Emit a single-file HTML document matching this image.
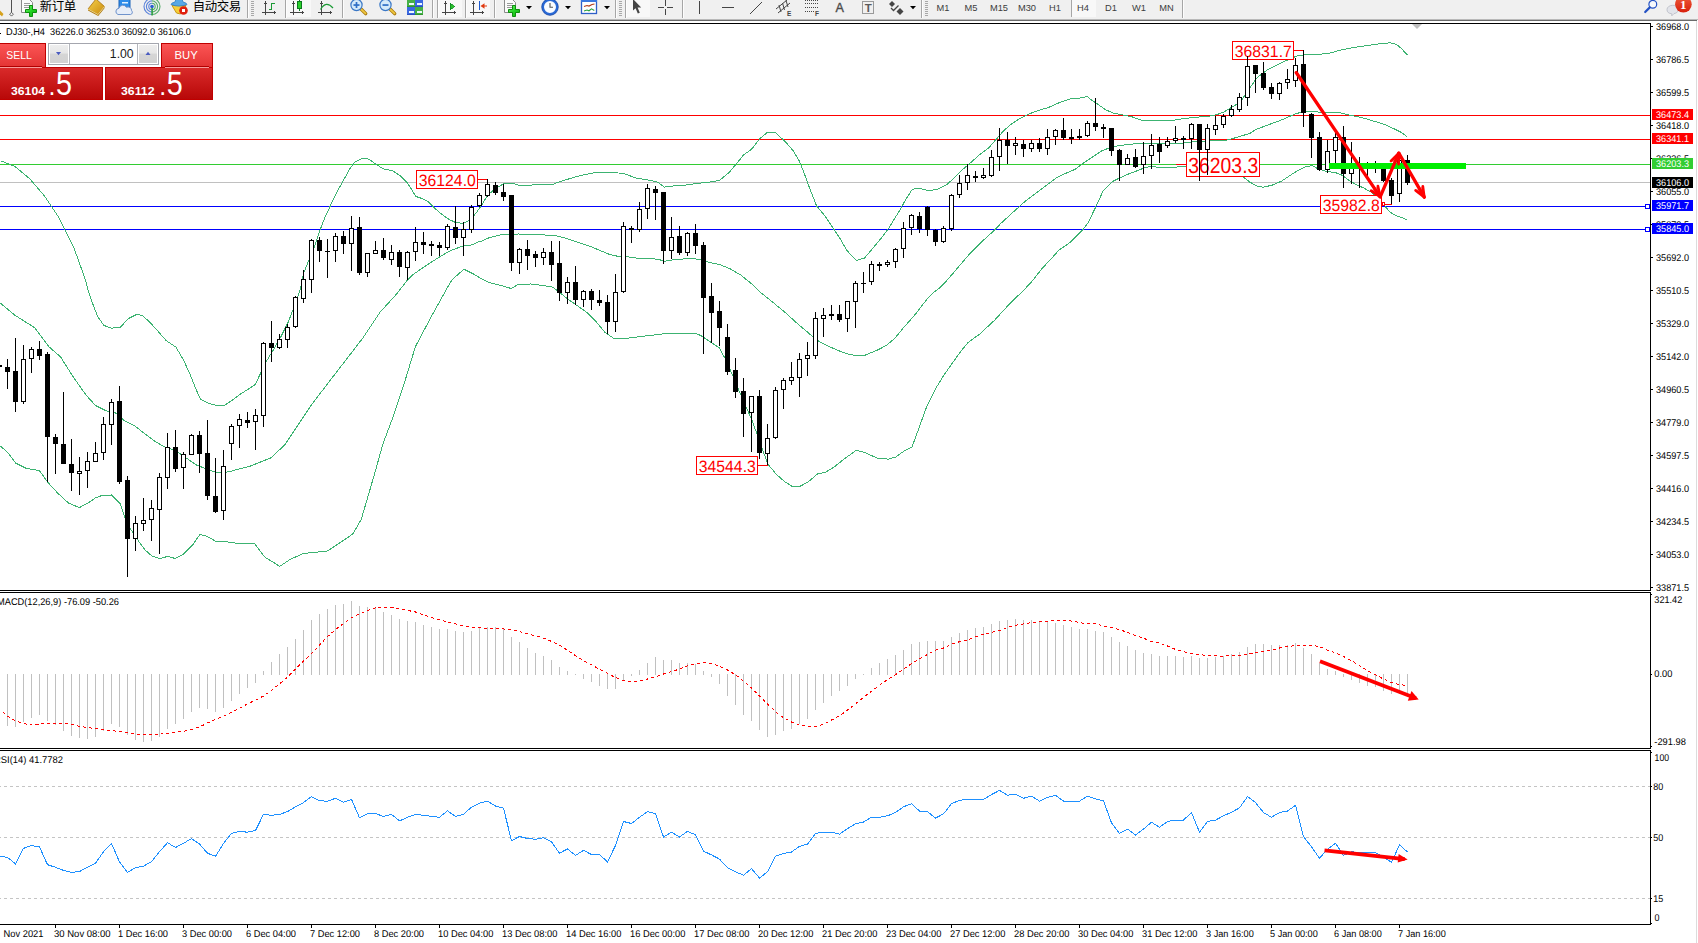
<!DOCTYPE html>
<html lang="zh"><head><meta charset="utf-8"><title>DJ30-,H4</title>
<style>html,body{margin:0;padding:0;background:#fff;}body{width:1698px;height:943px;overflow:hidden;position:relative;}svg{position:absolute;left:0;top:0;display:block;font-family:'Liberation Sans', sans-serif;}.c{shape-rendering:crispEdges;}.t{text-rendering:geometricPrecision;}</style></head><body>
<svg width="1698" height="943" viewBox="0 0 1698 943">
<rect x="0" y="0" width="1698" height="943" fill="#fff"/>
<defs><linearGradient id="gGold" x1="0" y1="0" x2="1" y2="1"><stop offset="0" stop-color="#f6d24a"/><stop offset="1" stop-color="#c98a10"/></linearGradient><linearGradient id="gPlus" x1="0" y1="0" x2="1" y2="1"><stop offset="0" stop-color="#7af07a"/><stop offset="0.5" stop-color="#22d422"/><stop offset="1" stop-color="#12a812"/></linearGradient><linearGradient id="gBadge" x1="0" y1="0" x2="0" y2="1"><stop offset="0" stop-color="#ee5a3a"/><stop offset="1" stop-color="#d8200c"/></linearGradient><clipPath id="tbclip"><rect x="0" y="0" width="1698" height="19"/></clipPath></defs><g class="c"><rect x="0" y="0" width="1698" height="19" fill="#f0f0f0"/><rect x="0" y="19" width="1698" height="1" fill="#b9b9b9"/><rect x="0" y="20" width="1697" height="1" fill="#6b6b6b"/><rect x="287" y="0" width="24" height="17" fill="#f8f8f8"/><rect x="438" y="0" width="24" height="17" fill="#f8f8f8"/><rect x="466" y="0" width="24" height="17" fill="#f8f8f8"/><rect x="626" y="0" width="24" height="17" fill="#f8f8f8"/><rect x="1072" y="0" width="24" height="17" fill="#f8f8f8"/><rect x="247" y="0" width="1" height="18" fill="#a6a6a6"/><rect x="248" y="0" width="1" height="18" fill="#fdfdfd"/><rect x="285" y="0" width="1" height="18" fill="#a6a6a6"/><rect x="286" y="0" width="1" height="18" fill="#fdfdfd"/><rect x="342" y="0" width="1" height="18" fill="#a6a6a6"/><rect x="343" y="0" width="1" height="18" fill="#fdfdfd"/><rect x="432" y="0" width="1" height="18" fill="#a6a6a6"/><rect x="433" y="0" width="1" height="18" fill="#fdfdfd"/><rect x="437" y="0" width="1" height="18" fill="#a6a6a6"/><rect x="438" y="0" width="1" height="18" fill="#fdfdfd"/><rect x="465" y="0" width="1" height="18" fill="#a6a6a6"/><rect x="466" y="0" width="1" height="18" fill="#fdfdfd"/><rect x="494" y="0" width="1" height="18" fill="#a6a6a6"/><rect x="495" y="0" width="1" height="18" fill="#fdfdfd"/><rect x="615" y="0" width="1" height="18" fill="#a6a6a6"/><rect x="616" y="0" width="1" height="18" fill="#fdfdfd"/><rect x="625" y="0" width="1" height="18" fill="#a6a6a6"/><rect x="626" y="0" width="1" height="18" fill="#fdfdfd"/><rect x="682" y="0" width="1" height="18" fill="#a6a6a6"/><rect x="683" y="0" width="1" height="18" fill="#fdfdfd"/><rect x="921" y="0" width="1" height="18" fill="#a6a6a6"/><rect x="922" y="0" width="1" height="18" fill="#fdfdfd"/><rect x="1182" y="0" width="1" height="18" fill="#a6a6a6"/><rect x="1183" y="0" width="1" height="18" fill="#fdfdfd"/><rect x="251" y="1" width="3" height="1" fill="#a8a8a8"/><rect x="251" y="3" width="3" height="1" fill="#a8a8a8"/><rect x="251" y="5" width="3" height="1" fill="#a8a8a8"/><rect x="251" y="7" width="3" height="1" fill="#a8a8a8"/><rect x="251" y="9" width="3" height="1" fill="#a8a8a8"/><rect x="251" y="11" width="3" height="1" fill="#a8a8a8"/><rect x="251" y="13" width="3" height="1" fill="#a8a8a8"/><rect x="251" y="15" width="3" height="1" fill="#a8a8a8"/><rect x="619" y="1" width="3" height="1" fill="#a8a8a8"/><rect x="619" y="3" width="3" height="1" fill="#a8a8a8"/><rect x="619" y="5" width="3" height="1" fill="#a8a8a8"/><rect x="619" y="7" width="3" height="1" fill="#a8a8a8"/><rect x="619" y="9" width="3" height="1" fill="#a8a8a8"/><rect x="619" y="11" width="3" height="1" fill="#a8a8a8"/><rect x="619" y="13" width="3" height="1" fill="#a8a8a8"/><rect x="619" y="15" width="3" height="1" fill="#a8a8a8"/><rect x="925" y="1" width="3" height="1" fill="#a8a8a8"/><rect x="925" y="3" width="3" height="1" fill="#a8a8a8"/><rect x="925" y="5" width="3" height="1" fill="#a8a8a8"/><rect x="925" y="7" width="3" height="1" fill="#a8a8a8"/><rect x="925" y="9" width="3" height="1" fill="#a8a8a8"/><rect x="925" y="11" width="3" height="1" fill="#a8a8a8"/><rect x="925" y="13" width="3" height="1" fill="#a8a8a8"/><rect x="925" y="15" width="3" height="1" fill="#a8a8a8"/><rect x="1071" y="0" width="1" height="17" fill="#a6a6a6"/><rect x="11" y="0" width="1" height="15" fill="#505050"/></g><polygon points="9.6,14.2 11.5,12.3 13.4,14.2 11.5,16.1" fill="#f0f0f0" stroke="#505050" stroke-width="0.9"/><g clip-path="url(#tbclip)"><polygon points="0,10.5 3.5,14 2,16.5 0,14.5" fill="#d6a21e"/><path d="M21.5,-0.5 h8 l3,3 v10 h-11 z" fill="#fbfbfb" stroke="#8a8a8a" stroke-width="1"/><rect x="24" y="3" width="6" height="1" fill="#9a9a9a"/><rect x="24" y="5" width="6" height="1" fill="#9a9a9a"/><rect x="24" y="7" width="6" height="1" fill="#9a9a9a"/><polygon points="29.5,5.5 32.5,5.5 32.5,9.5 36.5,9.5 36.5,12.5 32.5,12.5 32.5,16.5 29.5,16.5 29.5,12.5 25.5,12.5 25.5,9.5 29.5,9.5" fill="url(#gPlus)" stroke="#0c8f0c" stroke-width="1" stroke-linejoin="round"/><text x="39.8" y="10.5" font-family="'Liberation Sans','Noto Sans CJK SC',sans-serif" font-size="12.4px" fill="#000" textLength="36.3" lengthAdjust="spacing">新订单</text><polygon points="88,9 98,14.5 104.5,6.5 104.5,8.3 98.2,16 88,10.6" fill="#b07a10"/><polygon points="96,-1 104.5,6.5 98,14.5 88,9" fill="url(#gGold)" stroke="#a8700c" stroke-width="0.8" stroke-linejoin="round"/><path d="M88,9 l10,5.5 6.5,-8" fill="none" stroke="#fff3b0" stroke-width="1" opacity="0.7"/><rect x="119" y="-1" width="11" height="9" fill="#2d8cea" stroke="#1b63b8" stroke-width="1"/><rect x="122" y="2" width="6" height="1.5" fill="#dff0ff"/><path d="M118,14.5 a3.2,3.2 0 0 1 1,-6.2 a4,4 0 0 1 7.4,-1 a3.6,3.6 0 0 1 5.2,3.4 a2.2,2.2 0 0 1 -1,3.8 z" fill="#e6edf8" stroke="#6f93cc" stroke-width="1"/><path d="M152,3.3 a3.2,3.2 0 0 0 0,6.4" fill="none" stroke="#3f6fd6" stroke-width="1.1" opacity="0.85"/><path d="M152,3.3 a3.2,3.2 0 0 1 0,6.4" fill="none" stroke="#3aa052" stroke-width="1.1" opacity="0.85"/><path d="M152,0.9000000000000004 a5.6,5.6 0 0 0 0,11.2" fill="none" stroke="#3f6fd6" stroke-width="1.1" opacity="0.85"/><path d="M152,0.9000000000000004 a5.6,5.6 0 0 1 0,11.2" fill="none" stroke="#3aa052" stroke-width="1.1" opacity="0.85"/><path d="M152,-1.5 a8,8 0 0 0 0,16" fill="none" stroke="#3f6fd6" stroke-width="1.1" opacity="0.85"/><path d="M152,-1.5 a8,8 0 0 1 0,16" fill="none" stroke="#3aa052" stroke-width="1.1" opacity="0.85"/><rect x="151.3" y="7" width="1.6" height="8.5" fill="#2fa040"/><circle cx="152" cy="6.5" r="1.8" fill="#2a5fd0"/><path d="M172,5.5 h14 l-5.5,8.5 l-4,-1 z" fill="#f6cf3a" stroke="#c99710" stroke-width="1" stroke-linejoin="round"/><path d="M176,-1 h6 l1,3 q4,1 4,2.5 q-8,3.2 -16,0 q0,-1.5 4,-2.5 z" fill="#58a8e6" stroke="#2f7cc4" stroke-width="0.8"/><circle cx="183.5" cy="10.5" r="4.3" fill="#e0200e"/><rect x="182" y="9" width="3" height="3" fill="#fff"/><text x="192.8" y="10.5" font-family="'Liberation Sans','Noto Sans CJK SC',sans-serif" font-size="12.4px" fill="#000" textLength="48.3" lengthAdjust="spacing">自动交易</text></g><g class="c"><rect x="265" y="2" width="1" height="13" fill="#454545"/><rect x="262" y="12" width="13" height="1" fill="#454545"/><rect x="264" y="3" width="3" height="1" fill="#454545"/><rect x="265" y="1" width="1" height="1" fill="#454545"/><rect x="274" y="11" width="1" height="3" fill="#454545"/><rect x="275" y="12" width="1" height="1" fill="#454545"/><path d="M268.5,9.5 h3 v-6 h3" fill="none" stroke="#1a9a34" stroke-width="1"/><rect x="293" y="2" width="1" height="13" fill="#454545"/><rect x="290" y="12" width="13" height="1" fill="#454545"/><rect x="292" y="3" width="3" height="1" fill="#454545"/><rect x="293" y="1" width="1" height="1" fill="#454545"/><rect x="302" y="11" width="1" height="3" fill="#454545"/><rect x="303" y="12" width="1" height="1" fill="#454545"/><rect x="299" y="0" width="1" height="11" fill="#0c7a20"/><rect x="297.5" y="1.5" width="4" height="7" fill="#2bd02b" stroke="#0c7a20" stroke-width="1"/><rect x="321" y="2" width="1" height="13" fill="#454545"/><rect x="318" y="12" width="13" height="1" fill="#454545"/><rect x="320" y="3" width="3" height="1" fill="#454545"/><rect x="321" y="1" width="1" height="1" fill="#454545"/><rect x="330" y="11" width="1" height="3" fill="#454545"/><rect x="331" y="12" width="1" height="1" fill="#454545"/></g><path d="M320.5,9.5 q5.5,-9.5 12.5,-1.5" fill="none" stroke="#1a9a34" stroke-width="1.2"/><line x1="361.0" y1="9" x2="365.7" y2="13.6" stroke="#a8780c" stroke-width="3.4" stroke-linecap="round"/><line x1="361.3" y1="9.3" x2="365.5" y2="13.4" stroke="#f0c840" stroke-width="1.8" stroke-linecap="round"/><circle cx="356.5" cy="5" r="5.6" fill="#d4eafa" stroke="#3b78c6" stroke-width="1.2"/><rect x="353.5" y="4.2" width="6" height="1.7" fill="#2f6fc6"/><rect x="355.65" y="2" width="1.7" height="6" fill="#2f6fc6"/><line x1="390.0" y1="9" x2="394.7" y2="13.6" stroke="#a8780c" stroke-width="3.4" stroke-linecap="round"/><line x1="390.3" y1="9.3" x2="394.5" y2="13.4" stroke="#f0c840" stroke-width="1.8" stroke-linecap="round"/><circle cx="385.5" cy="5" r="5.6" fill="#d4eafa" stroke="#3b78c6" stroke-width="1.2"/><rect x="382.5" y="4.2" width="6" height="1.7" fill="#2f6fc6"/><g class="c"><rect x="407" y="-1" width="8" height="7.5" fill="#46b046"/><rect x="407" y="5.5" width="8" height="1" fill="#2f962f"/><rect x="408.5" y="2.5" width="5" height="2" fill="#eef8ff"/><rect x="415" y="-1" width="8" height="7.5" fill="#3a68e0"/><rect x="415" y="5.5" width="8" height="1" fill="#2a50c4"/><rect x="416.5" y="2.5" width="5" height="2" fill="#eef8ff"/><rect x="407" y="7" width="8" height="7.5" fill="#3a68e0"/><rect x="407" y="13.5" width="8" height="1" fill="#2a50c4"/><rect x="408.5" y="10.5" width="5" height="2" fill="#eef8ff"/><rect x="415" y="7" width="8" height="7.5" fill="#46b046"/><rect x="415" y="13.5" width="8" height="1" fill="#2f962f"/><rect x="416.5" y="10.5" width="5" height="2" fill="#eef8ff"/><rect x="445" y="2" width="1" height="13" fill="#454545"/><rect x="442" y="12" width="13" height="1" fill="#454545"/><rect x="444" y="3" width="3" height="1" fill="#454545"/><rect x="445" y="1" width="1" height="1" fill="#454545"/><rect x="454" y="11" width="1" height="3" fill="#454545"/><rect x="455" y="12" width="1" height="1" fill="#454545"/><polygon points="450,3 454.5,6.5 450,10" fill="#2bc02b" stroke="#0c8a20" stroke-width="0.8"/><rect x="473" y="2" width="1" height="13" fill="#454545"/><rect x="470" y="12" width="13" height="1" fill="#454545"/><rect x="472" y="3" width="3" height="1" fill="#454545"/><rect x="473" y="1" width="1" height="1" fill="#454545"/><rect x="482" y="11" width="1" height="3" fill="#454545"/><rect x="483" y="12" width="1" height="1" fill="#454545"/><rect x="479" y="1" width="1" height="9" fill="#1e5ad0"/></g><polygon points="480.5,6 484.5,3.2 484.5,8.8" fill="#e03a10"/><rect x="484" y="5.5" width="3" height="1" fill="#e03a10"/><path d="M504.5,-0.5 h8 l3,3 v10 h-11 z" fill="#fbfbfb" stroke="#8a8a8a" stroke-width="1"/><rect x="507" y="3" width="6" height="1" fill="#9a9a9a"/><rect x="507" y="5" width="6" height="1" fill="#9a9a9a"/><rect x="507" y="7" width="6" height="1" fill="#9a9a9a"/><polygon points="512.5,5.5 515.5,5.5 515.5,9.5 519.5,9.5 519.5,12.5 515.5,12.5 515.5,16.5 512.5,16.5 512.5,12.5 508.5,12.5 508.5,9.5 512.5,9.5" fill="url(#gPlus)" stroke="#0c8f0c" stroke-width="1" stroke-linejoin="round"/><polygon points="526,6 532,6 529,9.2" fill="#000"/><circle cx="550" cy="7" r="7.2" fill="#fafcff" stroke="#2a6ad6" stroke-width="2.4"/><circle cx="550" cy="7" r="8.3" fill="none" stroke="#1a3f98" stroke-width="0.6"/><path d="M550,3 v4.3 h3" fill="none" stroke="#555" stroke-width="1.1"/><polygon points="565,6 571,6 568,9.2" fill="#000"/><rect x="581.5" y="-0.5" width="15" height="14" fill="#fff" stroke="#2d5fc8" stroke-width="1.3"/><rect x="581" y="-1" width="16" height="3" fill="#3a78e0"/><path d="M584,6.5 l3,-1 2,0.6 3,-1.6 2.5,-0.5" fill="none" stroke="#b03a1a" stroke-width="1.1"/><path d="M584,11 l3,-1 2,0.8 2.5,-2 2.8,1.6" fill="none" stroke="#2aa040" stroke-width="1.1"/><polygon points="604,6 610,6 607,9.2" fill="#000"/><polygon points="633,-1 633,10.6 635.6,8.3 637.8,13.6 639.8,12.7 637.6,7.6 641.2,7.6" fill="#454545"/><g class="c"><rect x="658" y="7" width="6" height="1" fill="#454545"/><rect x="667" y="7" width="6" height="1" fill="#454545"/><rect x="665" y="0" width="1" height="6" fill="#454545"/><rect x="665" y="9" width="1" height="6" fill="#454545"/><rect x="699" y="1" width="1" height="13" fill="#454545"/><rect x="722" y="7" width="12" height="1" fill="#454545"/></g><line x1="750" y1="14" x2="762" y2="2" stroke="#454545" stroke-width="1"/><g stroke="#454545" stroke-width="1" fill="none"><line x1="776" y1="9" x2="787" y2="0"/><line x1="778" y1="13" x2="790" y2="3"/><line x1="779" y1="5" x2="781" y2="12"/><line x1="782.5" y1="3" x2="784.5" y2="10"/><line x1="786" y1="0.5" x2="788" y2="7"/></g><text x="787" y="15.6" font-size="6.5px" font-weight="bold" fill="#454545">E</text><g class="c"><rect x="805" y="0" width="1" height="1" fill="#454545"/><rect x="807" y="0" width="1" height="1" fill="#454545"/><rect x="809" y="0" width="1" height="1" fill="#454545"/><rect x="811" y="0" width="1" height="1" fill="#454545"/><rect x="813" y="0" width="1" height="1" fill="#454545"/><rect x="815" y="0" width="1" height="1" fill="#454545"/><rect x="817" y="0" width="1" height="1" fill="#454545"/><rect x="805" y="3" width="1" height="1" fill="#454545"/><rect x="807" y="3" width="1" height="1" fill="#454545"/><rect x="809" y="3" width="1" height="1" fill="#454545"/><rect x="811" y="3" width="1" height="1" fill="#454545"/><rect x="813" y="3" width="1" height="1" fill="#454545"/><rect x="815" y="3" width="1" height="1" fill="#454545"/><rect x="817" y="3" width="1" height="1" fill="#454545"/><rect x="805" y="7" width="1" height="1" fill="#454545"/><rect x="807" y="7" width="1" height="1" fill="#454545"/><rect x="809" y="7" width="1" height="1" fill="#454545"/><rect x="811" y="7" width="1" height="1" fill="#454545"/><rect x="813" y="7" width="1" height="1" fill="#454545"/><rect x="815" y="7" width="1" height="1" fill="#454545"/><rect x="817" y="7" width="1" height="1" fill="#454545"/><rect x="805" y="11" width="1" height="1" fill="#454545"/><rect x="807" y="11" width="1" height="1" fill="#454545"/><rect x="809" y="11" width="1" height="1" fill="#454545"/><rect x="811" y="11" width="1" height="1" fill="#454545"/><rect x="813" y="11" width="1" height="1" fill="#454545"/></g><text x="815" y="15.6" font-size="6.5px" font-weight="bold" fill="#454545">F</text><text x="835.5" y="12" font-size="13.2px" fill="#4a4a4a" stroke="#4a4a4a" stroke-width="0.35" textLength="8.4" lengthAdjust="spacingAndGlyphs">A</text><rect x="862.5" y="1.5" width="11" height="12" fill="none" stroke="#454545" stroke-width="1" stroke-dasharray="1 1"/><text x="868.2" y="11.6" font-size="11.5px" font-weight="bold" fill="#5a5a5a" text-anchor="middle">T</text><polygon points="892,1 895,4 892,7 889,4" fill="#454545"/><polygon points="900,8 903.5,11.5 900,15 896.5,11.5" fill="#454545"/><path d="M891,8 l2.5,2.5 5,-5" fill="none" stroke="#454545" stroke-width="1.3"/><polygon points="910,6 916,6 913,9.2" fill="#000"/><text x="943" y="11" font-size="9.3px" fill="#3c3c3c" text-anchor="middle">M1</text><text x="971" y="11" font-size="9.3px" fill="#3c3c3c" text-anchor="middle">M5</text><text x="999" y="11" font-size="9.3px" fill="#3c3c3c" text-anchor="middle">M15</text><text x="1027" y="11" font-size="9.3px" fill="#3c3c3c" text-anchor="middle">M30</text><text x="1055" y="11" font-size="9.3px" fill="#3c3c3c" text-anchor="middle">H1</text><text x="1083" y="11" font-size="9.3px" fill="#3c3c3c" text-anchor="middle">H4</text><text x="1111" y="11" font-size="9.3px" fill="#3c3c3c" text-anchor="middle">D1</text><text x="1139" y="11" font-size="9.3px" fill="#3c3c3c" text-anchor="middle">W1</text><text x="1166.5" y="11" font-size="9.3px" fill="#3c3c3c" text-anchor="middle">MN</text><g clip-path="url(#tbclip)"><circle cx="1652.8" cy="4.3" r="3.9" fill="#f6f8fc" stroke="#2452c4" stroke-width="1.2"/><line x1="1649.8" y1="7.4" x2="1645.2" y2="12" stroke="#2452c4" stroke-width="2.2" stroke-linecap="round"/><path d="M1667,9.5 a5.8,4.2 0 1 1 7,4.1 l-2.2,2.2 v-2 a5.6,4.2 0 0 1 -4.8,-4.3 z" fill="#e2e4ea" stroke="#b8bac4" stroke-width="0.8"/><circle cx="1683.4" cy="4.3" r="8.3" fill="url(#gBadge)"/><text x="1683.2" y="9" font-family="'Liberation Serif',serif" font-size="13px" font-weight="bold" fill="#fff" text-anchor="middle">1</text></g>
<g class="c">
<rect x="1696" y="21" width="1" height="922" fill="#dcdcdc"/>
<rect x="0" y="23" width="1651" height="1" fill="#000"/>
<rect x="1650" y="23" width="1" height="902" fill="#000"/>
<rect x="0" y="590" width="1651" height="1" fill="#000"/>
<rect x="0" y="592" width="1651" height="1" fill="#000"/>
<rect x="0" y="748" width="1651" height="1" fill="#000"/>
<rect x="0" y="750" width="1651" height="1" fill="#000"/>
<rect x="0" y="924" width="1651" height="1" fill="#000"/>
<rect x="1651" y="26" width="2" height="1" fill="#000"/>
<rect x="1651" y="59" width="2" height="1" fill="#000"/>
<rect x="1651" y="92" width="2" height="1" fill="#000"/>
<rect x="1651" y="125" width="2" height="1" fill="#000"/>
<rect x="1651" y="158" width="2" height="1" fill="#000"/>
<rect x="1651" y="191" width="2" height="1" fill="#000"/>
<rect x="1651" y="224" width="2" height="1" fill="#000"/>
<rect x="1651" y="257" width="2" height="1" fill="#000"/>
<rect x="1651" y="290" width="2" height="1" fill="#000"/>
<rect x="1651" y="323" width="2" height="1" fill="#000"/>
<rect x="1651" y="356" width="2" height="1" fill="#000"/>
<rect x="1651" y="389" width="2" height="1" fill="#000"/>
<rect x="1651" y="422" width="2" height="1" fill="#000"/>
<rect x="1651" y="455" width="2" height="1" fill="#000"/>
<rect x="1651" y="488" width="2" height="1" fill="#000"/>
<rect x="1651" y="521" width="2" height="1" fill="#000"/>
<rect x="1651" y="554" width="2" height="1" fill="#000"/>
<rect x="1651" y="587" width="2" height="1" fill="#000"/>
<rect x="1651" y="594" width="1" height="1" fill="#000"/>
<rect x="1651" y="674" width="1" height="1" fill="#000"/>
<rect x="1651" y="746" width="1" height="1" fill="#000"/>
<rect x="1651" y="752" width="1" height="1" fill="#000"/>
<rect x="1651" y="786" width="1" height="1" fill="#000"/>
<rect x="1651" y="837" width="1" height="1" fill="#000"/>
<rect x="1651" y="898" width="1" height="1" fill="#000"/>
<rect x="1651" y="923" width="1" height="1" fill="#000"/>
<rect x="1650" y="591" width="1" height="1" fill="#fff"/>
<rect x="1650" y="749" width="1" height="1" fill="#fff"/>
</g>
<text class="t" x="1656" y="30" font-size="9.8px" fill="#000" textLength="33" lengthAdjust="spacingAndGlyphs">36968.0</text>
<text class="t" x="1656" y="63" font-size="9.8px" fill="#000" textLength="33" lengthAdjust="spacingAndGlyphs">36786.5</text>
<text class="t" x="1656" y="96" font-size="9.8px" fill="#000" textLength="33" lengthAdjust="spacingAndGlyphs">36599.5</text>
<text class="t" x="1656" y="129" font-size="9.8px" fill="#000" textLength="33" lengthAdjust="spacingAndGlyphs">36418.0</text>
<text class="t" x="1656" y="162" font-size="9.8px" fill="#000" textLength="33" lengthAdjust="spacingAndGlyphs">36236.5</text>
<text class="t" x="1656" y="195" font-size="9.8px" fill="#000" textLength="33" lengthAdjust="spacingAndGlyphs">36055.0</text>
<text class="t" x="1656" y="228" font-size="9.8px" fill="#000" textLength="33" lengthAdjust="spacingAndGlyphs">35873.5</text>
<text class="t" x="1656" y="261" font-size="9.8px" fill="#000" textLength="33" lengthAdjust="spacingAndGlyphs">35692.0</text>
<text class="t" x="1656" y="294" font-size="9.8px" fill="#000" textLength="33" lengthAdjust="spacingAndGlyphs">35510.5</text>
<text class="t" x="1656" y="327" font-size="9.8px" fill="#000" textLength="33" lengthAdjust="spacingAndGlyphs">35329.0</text>
<text class="t" x="1656" y="360" font-size="9.8px" fill="#000" textLength="33" lengthAdjust="spacingAndGlyphs">35142.0</text>
<text class="t" x="1656" y="393" font-size="9.8px" fill="#000" textLength="33" lengthAdjust="spacingAndGlyphs">34960.5</text>
<text class="t" x="1656" y="426" font-size="9.8px" fill="#000" textLength="33" lengthAdjust="spacingAndGlyphs">34779.0</text>
<text class="t" x="1656" y="459" font-size="9.8px" fill="#000" textLength="33" lengthAdjust="spacingAndGlyphs">34597.5</text>
<text class="t" x="1656" y="492" font-size="9.8px" fill="#000" textLength="33" lengthAdjust="spacingAndGlyphs">34416.0</text>
<text class="t" x="1656" y="525" font-size="9.8px" fill="#000" textLength="33" lengthAdjust="spacingAndGlyphs">34234.5</text>
<text class="t" x="1656" y="558" font-size="9.8px" fill="#000" textLength="33" lengthAdjust="spacingAndGlyphs">34053.0</text>
<text class="t" x="1656" y="591" font-size="9.8px" fill="#000" textLength="33" lengthAdjust="spacingAndGlyphs">33871.5</text>
<g class="c">
<rect x="0" y="115" width="1650" height="1" fill="#ff0000"/>
<rect x="0" y="139" width="1650" height="1" fill="#ff0000"/>
<rect x="0" y="164" width="1650" height="1" fill="#32cd32"/>
<rect x="0" y="182" width="1650" height="1" fill="#c0c0c0"/>
<rect x="0" y="206" width="1650" height="1" fill="#0000ff"/>
<rect x="0" y="229" width="1650" height="1" fill="#0000ff"/>
<rect x="1645.5" y="204.5" width="4" height="4" fill="#fff" stroke="#0000ff" stroke-width="1"/>
<rect x="1645.5" y="227.5" width="4" height="4" fill="#fff" stroke="#0000ff" stroke-width="1"/>
</g>
<g class="c">
<polyline points="0.5,160.7 15.1,166.6 29.8,178.8 44.4,195.9 59,217.8 73.7,247.1 85.9,281.2 88.1,290 92.3,302.7 97.6,316.5 104,325.5 111.4,328.1 119.9,327.7 128.3,318.6 136.8,314.4 142.1,315.4 149.5,321.8 158,331.3 166.5,340.9 176,347.2 183.5,360 189.8,373.7 196.2,389.6 200.4,399.2 208.9,403.4 217.4,405.5 224.8,405.1 232.2,400.2 240.7,393.9 249.2,388.6 255.5,384.3 260.8,372.7 267.2,360 273.6,349.4 281,336.6 288.4,321.8 293.7,308 300.1,290 303.5,273.6 309.4,258.8 314.6,246.2 319.8,230.6 325,217.2 330.9,204.6 336.9,192 343.6,180.1 350.2,168.2 354.7,162.3 359.9,159.3 365.8,158.1 370.3,160 376.2,164.5 383.6,169 392.6,170.7 400,175.6 407.4,183.1 411.9,189.7 415.6,196.4 422.3,198.6 428.2,201.6 434.1,207.6 441.6,214.2 449,219.4 456.4,222.9 463.8,223.1 469.8,220.2 475.7,213.5 480.5,206.9 487.7,195.2 494.9,188.9 503.9,183.5 512.9,183 520.1,185.9 534.5,184.8 552.5,184.4 561.5,181.2 574.2,177.2 585,174.5 597.6,172.2 610.2,172.2 620.5,173.2 624.1,173.8 636.9,178.2 649.6,180.3 657,181.8 664.4,187.1 670.8,186.1 681.4,185.6 696.2,183.5 709,182.2 719.6,180.3 729.1,172.5 737.1,163 743.5,155 751.4,149.4 760.2,138.3 767.3,132.4 775.3,132.1 781.6,138.3 787.2,143.9 792.8,150.2 799.1,160.6 803.9,172.5 810.3,190 816.6,205.9 824.6,215.5 834.2,229.8 840.5,239.3 846.9,250.5 856.4,260.5 864.4,258.1 872.3,248.9 880.3,239.3 888.2,229 894.6,218.6 900.5,209.1 904.9,200.9 912.3,189.2 919.7,188.2 928.2,190.7 937.8,189.2 946.3,185 954.7,177.6 963.2,169.1 971.7,161.7 980.2,154.2 988.7,147.9 996.1,139.4 1003.5,130.9 1012,123.5 1020.5,118.2 1029,113.9 1037.5,110.8 1048.1,107.6 1058.7,102.9 1069.3,99.1 1079.9,98 1087.3,96.5 1090.5,99.3 1097.5,104 1105.7,109.8 1113.8,113.3 1122,114.8 1131.3,116.6 1143,120.6 1155.8,120.9 1171,120.6 1183.8,118.6 1195.5,117.2 1207.1,116.6 1216.4,114.8 1223.4,112.2 1230.4,108.1 1236.3,104.6 1242.1,99.3 1246.8,92.3 1257.3,77.4 1267.1,70.1 1276.8,65.2 1286.6,60.4 1296.4,56.2 1303.7,54.8 1311,55 1320.7,54.2 1330.5,53 1340.3,50.1 1350,48.2 1362.2,46.2 1374.4,44.5 1384.2,43.3 1390.3,42.8 1396.4,44.5 1401.2,48.2 1407.3,55" fill="none" stroke="#3cb371" stroke-width="1"/>
<polyline points="0.5,303.2 15.1,315.4 34.6,327.6 49.3,347.1 60.5,356.8 73.2,376.9 85.9,394.9 95.5,405.5 106.1,410.8 115.6,413 124.1,420.4 134.7,425.7 145.3,434.2 153.8,440.5 164.4,446.9 175,450.1 185.6,457.5 196.2,464.9 206.8,469.1 217.4,473 228,471.9 230.5,471.3 250.9,465.9 271.2,457.7 284.8,444.8 298.4,424.4 312,404.1 328.9,382 345.9,360 362.9,337.9 379.9,312.4 396.8,293.8 407.4,280 413.3,274.4 420.8,269.2 429.7,263.2 440.1,256.6 450.5,250.6 462.3,246.2 472.7,244.7 478.7,241.7 480.5,241.5 489.5,237.6 502.1,234.5 509.3,234.9 518.3,234 530.9,234.3 543.5,234.9 556.1,235.8 566.9,238.5 577.7,242.1 588.5,245.7 599.3,250.2 610.1,254.7 620.5,256.8 626.2,256.5 636.9,258.2 649.6,258.6 658.1,259.2 664.4,261.3 672.9,259.9 687.8,258.6 700.5,259.2 709,262.4 719.6,264.5 730.2,268.8 740.8,275.1 751.4,283.6 760.5,292.5 770.7,300.5 785.4,312.7 800,325.9 805.1,330 812.3,336.3 819.5,341.7 830.4,347.1 843,352.5 850.5,354.7 859,355.6 865.3,355.1 878.1,349.8 886.6,345.2 895,338.2 903.5,327.6 914.1,315.9 920.5,307.4 926.4,300 931.7,294 939,288.5 947.3,280 956.9,268.8 969.6,253.9 982.3,241.2 995.1,229.6 1000.5,223.7 1012.2,213 1026.2,200.4 1039,190.8 1050.7,182.1 1056.5,177.7 1065.8,173.3 1075.2,169.3 1082.2,164 1091.5,157.6 1102,150.6 1110.3,147.7 1117.3,146 1125.5,144.8 1133.6,143.9 1143,143.6 1151.1,143.3 1160.5,143.9 1169.8,143.9 1179.1,143.6 1189.6,142.1 1201.3,141.3 1212.9,140.7 1222.3,140.4 1228.1,139.9 1233.9,138.2 1242.1,135.8 1250.5,133.1 1254.9,129.9 1264.6,126.2 1274.4,122.6 1284.2,118.9 1293.9,114.5 1301.2,112.1 1311,111.1 1320.7,112.3 1330.5,112.3 1340.3,112.8 1350,115.2 1362.2,117.7 1374.4,121.3 1384.2,124.3 1393.9,128.7 1401.2,132.3 1407.3,136.7" fill="none" stroke="#3cb371" stroke-width="1"/>
<polyline points="0.5,446.1 7.3,452.1 15.8,463.1 26,468.2 39.5,470.7 48,482.6 58.2,493.6 68.4,503 79.4,507.6 87.9,503 95.5,497.9 102.3,495.3 111.7,495 120.2,503.8 125.2,518.3 131.2,530.1 138,540.3 144.8,549.7 152.4,556.4 160,558.5 167.7,556.4 175.3,558.5 183.8,553.9 192.3,545.4 199.9,534.4 206.7,536.1 216,541.5 227.9,542 240.5,543.7 254.3,543.3 264.4,556.8 279.7,566.3 289.9,559.6 303.5,553.4 327.2,551.1 339.1,543.3 352.7,534.1 361.2,519.5 369.7,490.6 376.5,466.9 383.2,443.1 393.4,416 403.6,385.4 415.5,346.4 430.8,317.5 447.7,287 451.9,280 463.8,269.2 472.7,273.6 480.5,278.1 489.5,282.6 500.3,285.3 511.1,288.5 518.3,284.4 530.9,284 541.7,285.3 552.5,287.1 559.7,292.5 568.7,299.7 577.7,306 586.7,312.3 595.7,321.3 604.7,332.1 613.7,338.4 615.6,338.8 628.4,338.1 645.3,336 666.5,333.5 683.5,333.5 696.2,333.5 700.5,335.4 711.3,342.6 719.4,348 725.8,359.8 732.1,374.2 739.3,391.3 745.6,405.8 751.9,420.2 758.2,437.3 763.6,452.7 768.1,464.4 776.3,474.3 784.4,481.5 792.5,486.6 800.6,486 808.7,481.5 817.7,473.8 825,472.5 834,467.1 843,459.9 850.5,454.4 856.4,450.2 865.3,452.7 878.1,458.6 888.7,459.1 896.1,456.9 904.6,450.6 912,447 916.2,435.7 921.5,420.9 926.9,406 935.3,389.1 943.8,375.3 953.4,361.5 962.9,348.8 968.2,342.4 979.9,333.9 994.7,320.1 1005.3,308.5 1013.4,300 1023,291 1033.2,280 1041.7,268.8 1050.1,260 1058.8,250.3 1070.5,242.2 1082.2,230.5 1088,222.9 1096.2,206 1103.2,190.8 1112.5,181.5 1119.5,178 1128.8,173.9 1137.1,170.8 1143,168.4 1151.1,166 1157.6,167.3 1165.1,167.6 1174.5,167.6 1180.3,166.4 1186.7,166 1200.5,165.5 1220.5,168 1235.5,173 1243.9,177.4 1250,182.3 1257.3,186 1263.4,187.2 1272,185.2 1281.7,181.1 1291.5,174.5 1298.8,170.1 1306.1,166.5 1312.2,165.7 1318.3,168.9 1325.6,171.3 1335.4,172.6 1342.7,175.5 1350,181.1 1357.3,185.2 1364.6,188.4 1372,192.8 1379.3,198.2 1385.4,206.7 1390.3,212.3 1396.4,215.7 1402.5,217.7 1407.3,220.1" fill="none" stroke="#3cb371" stroke-width="1"/>
</g>
<g class="c">
<rect x="478" y="179" width="10" height="1" fill="#ff0000"/>
<rect x="757" y="465" width="11" height="1" fill="#ff0000"/>
<rect x="1294" y="50" width="10" height="1" fill="#ff0000"/>
<rect x="1176" y="164" width="10" height="1" fill="#ff0000"/>
<rect x="1385" y="204" width="7" height="1" fill="#ff0000"/>
<rect x="1382.5" y="202.5" width="2" height="3" fill="#fff" stroke="#ff0000" stroke-width="1"/>
</g>
<rect class="c" x="416.5" y="170.5" width="61" height="18" fill="#fff" stroke="#ff0000" stroke-width="1"/>
<text class="t" x="447.3" y="185.5" font-size="16.5px" fill="#ff0000" text-anchor="middle" textLength="57" lengthAdjust="spacingAndGlyphs">36124.0</text>
<rect class="c" x="696.5" y="456.5" width="61" height="18" fill="#fff" stroke="#ff0000" stroke-width="1"/>
<text class="t" x="727.3" y="471.5" font-size="16.5px" fill="#ff0000" text-anchor="middle" textLength="57" lengthAdjust="spacingAndGlyphs">34544.3</text>
<rect class="c" x="1232.5" y="41.5" width="61" height="18" fill="#fff" stroke="#ff0000" stroke-width="1"/>
<text class="t" x="1263.3" y="56.5" font-size="16.5px" fill="#ff0000" text-anchor="middle" textLength="57" lengthAdjust="spacingAndGlyphs">36831.7</text>
<rect class="c" x="1186.5" y="152.5" width="73" height="24" fill="#fff" stroke="#ff0000" stroke-width="1"/>
<text class="t" x="1223.3" y="172.5" font-size="22px" fill="#ff0000" text-anchor="middle" textLength="70" lengthAdjust="spacingAndGlyphs">36203.3</text>
<rect class="c" x="1320.5" y="195.5" width="61" height="18" fill="#fff" stroke="#ff0000" stroke-width="1"/>
<text class="t" x="1351.3" y="210.5" font-size="16.5px" fill="#ff0000" text-anchor="middle" textLength="57" lengthAdjust="spacingAndGlyphs">35982.8</text>
<polygon points="1412,24 1422,24 1417,29" fill="#c0c0c0"/>
<g class="c">
<rect x="-1" y="364" width="1" height="4" fill="#000"/>
<rect x="-3" y="365" width="5" height="2" fill="#000"/>
<rect x="7" y="359" width="1" height="30" fill="#000"/>
<rect x="5" y="367" width="5" height="5" fill="#000"/>
<rect x="15" y="338" width="1" height="74" fill="#000"/>
<rect x="13" y="371" width="5" height="31" fill="#000"/>
<rect x="23" y="345" width="1" height="59" fill="#000"/>
<rect x="21.5" y="359.5" width="4" height="42" fill="#fff" stroke="#000" stroke-width="1"/>
<rect x="31" y="347" width="1" height="26" fill="#000"/>
<rect x="29.5" y="349.5" width="4" height="9" fill="#fff" stroke="#000" stroke-width="1"/>
<rect x="39" y="341" width="1" height="19" fill="#000"/>
<rect x="37" y="349" width="5" height="7" fill="#000"/>
<rect x="47" y="352" width="1" height="130" fill="#000"/>
<rect x="45" y="354" width="5" height="83" fill="#000"/>
<rect x="55" y="434" width="1" height="40" fill="#000"/>
<rect x="53" y="437" width="5" height="7" fill="#000"/>
<rect x="63" y="392" width="1" height="72" fill="#000"/>
<rect x="61" y="444" width="5" height="20" fill="#000"/>
<rect x="71" y="439" width="1" height="52" fill="#000"/>
<rect x="69" y="464" width="5" height="9" fill="#000"/>
<rect x="79" y="457" width="1" height="38" fill="#000"/>
<rect x="77.5" y="471.5" width="4" height="2" fill="#fff" stroke="#000" stroke-width="1"/>
<rect x="87" y="452" width="1" height="36" fill="#000"/>
<rect x="85.5" y="461.5" width="4" height="9" fill="#fff" stroke="#000" stroke-width="1"/>
<rect x="95" y="442" width="1" height="20" fill="#000"/>
<rect x="93.5" y="453.5" width="4" height="8" fill="#fff" stroke="#000" stroke-width="1"/>
<rect x="103" y="417" width="1" height="43" fill="#000"/>
<rect x="101.5" y="424.5" width="4" height="28" fill="#fff" stroke="#000" stroke-width="1"/>
<rect x="111" y="399" width="1" height="46" fill="#000"/>
<rect x="109.5" y="402.5" width="4" height="22" fill="#fff" stroke="#000" stroke-width="1"/>
<rect x="119" y="386" width="1" height="98" fill="#000"/>
<rect x="117" y="401" width="5" height="81" fill="#000"/>
<rect x="127" y="476" width="1" height="101" fill="#000"/>
<rect x="125" y="480" width="5" height="59" fill="#000"/>
<rect x="135" y="516" width="1" height="35" fill="#000"/>
<rect x="133.5" y="523.5" width="4" height="15" fill="#fff" stroke="#000" stroke-width="1"/>
<rect x="143" y="498" width="1" height="33" fill="#000"/>
<rect x="141.5" y="520.5" width="4" height="3" fill="#fff" stroke="#000" stroke-width="1"/>
<rect x="151" y="500" width="1" height="41" fill="#000"/>
<rect x="149.5" y="508.5" width="4" height="11" fill="#fff" stroke="#000" stroke-width="1"/>
<rect x="159" y="473" width="1" height="81" fill="#000"/>
<rect x="157.5" y="477.5" width="4" height="32" fill="#fff" stroke="#000" stroke-width="1"/>
<rect x="167" y="433" width="1" height="56" fill="#000"/>
<rect x="165.5" y="447.5" width="4" height="30" fill="#fff" stroke="#000" stroke-width="1"/>
<rect x="175" y="430" width="1" height="42" fill="#000"/>
<rect x="173" y="447" width="5" height="22" fill="#000"/>
<rect x="183" y="452" width="1" height="37" fill="#000"/>
<rect x="181.5" y="454.5" width="4" height="13" fill="#fff" stroke="#000" stroke-width="1"/>
<rect x="191" y="434" width="1" height="21" fill="#000"/>
<rect x="189.5" y="435.5" width="4" height="19" fill="#fff" stroke="#000" stroke-width="1"/>
<rect x="199" y="431" width="1" height="42" fill="#000"/>
<rect x="197" y="435" width="5" height="19" fill="#000"/>
<rect x="207" y="420" width="1" height="80" fill="#000"/>
<rect x="205" y="453" width="5" height="43" fill="#000"/>
<rect x="215" y="458" width="1" height="55" fill="#000"/>
<rect x="213" y="496" width="5" height="16" fill="#000"/>
<rect x="223" y="450" width="1" height="70" fill="#000"/>
<rect x="221.5" y="466.5" width="4" height="44" fill="#fff" stroke="#000" stroke-width="1"/>
<rect x="231" y="424" width="1" height="36" fill="#000"/>
<rect x="229.5" y="426.5" width="4" height="17" fill="#fff" stroke="#000" stroke-width="1"/>
<rect x="239" y="414" width="1" height="34" fill="#000"/>
<rect x="237.5" y="419.5" width="4" height="6" fill="#fff" stroke="#000" stroke-width="1"/>
<rect x="247" y="412" width="1" height="16" fill="#000"/>
<rect x="245" y="420" width="5" height="3" fill="#000"/>
<rect x="255" y="409" width="1" height="41" fill="#000"/>
<rect x="253.5" y="415.5" width="4" height="6" fill="#fff" stroke="#000" stroke-width="1"/>
<rect x="263" y="342" width="1" height="85" fill="#000"/>
<rect x="261.5" y="343.5" width="4" height="72" fill="#fff" stroke="#000" stroke-width="1"/>
<rect x="271" y="321" width="1" height="41" fill="#000"/>
<rect x="269" y="343" width="5" height="5" fill="#000"/>
<rect x="279" y="334" width="1" height="15" fill="#000"/>
<rect x="277.5" y="339.5" width="4" height="8" fill="#fff" stroke="#000" stroke-width="1"/>
<rect x="287" y="324" width="1" height="24" fill="#000"/>
<rect x="285.5" y="327.5" width="4" height="12" fill="#fff" stroke="#000" stroke-width="1"/>
<rect x="295" y="296" width="1" height="32" fill="#000"/>
<rect x="293.5" y="297.5" width="4" height="29" fill="#fff" stroke="#000" stroke-width="1"/>
<rect x="303" y="270" width="1" height="33" fill="#000"/>
<rect x="301.5" y="279.5" width="4" height="19" fill="#fff" stroke="#000" stroke-width="1"/>
<rect x="311" y="239" width="1" height="54" fill="#000"/>
<rect x="309.5" y="240.5" width="4" height="39" fill="#fff" stroke="#000" stroke-width="1"/>
<rect x="319" y="237" width="1" height="25" fill="#000"/>
<rect x="317" y="240" width="5" height="11" fill="#000"/>
<rect x="327" y="239" width="1" height="39" fill="#000"/>
<rect x="325" y="251" width="5" height="1" fill="#000"/>
<rect x="335" y="233" width="1" height="29" fill="#000"/>
<rect x="333.5" y="236.5" width="4" height="14" fill="#fff" stroke="#000" stroke-width="1"/>
<rect x="343" y="231" width="1" height="23" fill="#000"/>
<rect x="341" y="236" width="5" height="8" fill="#000"/>
<rect x="351" y="216" width="1" height="55" fill="#000"/>
<rect x="349.5" y="228.5" width="4" height="15" fill="#fff" stroke="#000" stroke-width="1"/>
<rect x="359" y="217" width="1" height="58" fill="#000"/>
<rect x="357" y="227" width="5" height="46" fill="#000"/>
<rect x="367" y="253" width="1" height="24" fill="#000"/>
<rect x="365.5" y="253.5" width="4" height="19" fill="#fff" stroke="#000" stroke-width="1"/>
<rect x="375" y="241" width="1" height="13" fill="#000"/>
<rect x="373.5" y="250.5" width="4" height="3" fill="#fff" stroke="#000" stroke-width="1"/>
<rect x="383" y="238" width="1" height="22" fill="#000"/>
<rect x="381" y="250" width="5" height="8" fill="#000"/>
<rect x="391" y="245" width="1" height="20" fill="#000"/>
<rect x="389.5" y="252.5" width="4" height="7" fill="#fff" stroke="#000" stroke-width="1"/>
<rect x="399" y="250" width="1" height="27" fill="#000"/>
<rect x="397" y="252" width="5" height="15" fill="#000"/>
<rect x="407" y="251" width="1" height="29" fill="#000"/>
<rect x="405.5" y="252.5" width="4" height="15" fill="#fff" stroke="#000" stroke-width="1"/>
<rect x="415" y="227" width="1" height="34" fill="#000"/>
<rect x="413.5" y="242.5" width="4" height="9" fill="#fff" stroke="#000" stroke-width="1"/>
<rect x="423" y="232" width="1" height="22" fill="#000"/>
<rect x="421" y="242" width="5" height="3" fill="#000"/>
<rect x="431" y="241" width="1" height="15" fill="#000"/>
<rect x="429" y="244" width="5" height="2" fill="#000"/>
<rect x="439" y="242" width="1" height="14" fill="#000"/>
<rect x="437" y="245" width="5" height="3" fill="#000"/>
<rect x="447" y="224" width="1" height="26" fill="#000"/>
<rect x="445.5" y="226.5" width="4" height="21" fill="#fff" stroke="#000" stroke-width="1"/>
<rect x="455" y="206" width="1" height="38" fill="#000"/>
<rect x="453" y="227" width="5" height="11" fill="#000"/>
<rect x="463" y="222" width="1" height="34" fill="#000"/>
<rect x="461.5" y="229.5" width="4" height="8" fill="#fff" stroke="#000" stroke-width="1"/>
<rect x="471" y="205" width="1" height="28" fill="#000"/>
<rect x="469.5" y="207.5" width="4" height="22" fill="#fff" stroke="#000" stroke-width="1"/>
<rect x="479" y="193" width="1" height="14" fill="#000"/>
<rect x="477.5" y="195.5" width="4" height="10" fill="#fff" stroke="#000" stroke-width="1"/>
<rect x="487" y="179" width="1" height="18" fill="#000"/>
<rect x="485.5" y="184.5" width="4" height="11" fill="#fff" stroke="#000" stroke-width="1"/>
<rect x="495" y="182" width="1" height="13" fill="#000"/>
<rect x="493" y="185" width="5" height="8" fill="#000"/>
<rect x="503" y="184" width="1" height="17" fill="#000"/>
<rect x="501" y="192" width="5" height="5" fill="#000"/>
<rect x="511" y="195" width="1" height="76" fill="#000"/>
<rect x="509" y="195" width="5" height="68" fill="#000"/>
<rect x="519" y="248" width="1" height="26" fill="#000"/>
<rect x="517.5" y="249.5" width="4" height="13" fill="#fff" stroke="#000" stroke-width="1"/>
<rect x="527" y="240" width="1" height="30" fill="#000"/>
<rect x="525" y="249" width="5" height="7" fill="#000"/>
<rect x="535" y="251" width="1" height="16" fill="#000"/>
<rect x="533" y="254" width="5" height="4" fill="#000"/>
<rect x="543" y="248" width="1" height="17" fill="#000"/>
<rect x="541.5" y="252.5" width="4" height="5" fill="#fff" stroke="#000" stroke-width="1"/>
<rect x="551" y="241" width="1" height="40" fill="#000"/>
<rect x="549" y="252" width="5" height="13" fill="#000"/>
<rect x="559" y="241" width="1" height="60" fill="#000"/>
<rect x="557" y="263" width="5" height="30" fill="#000"/>
<rect x="567" y="277" width="1" height="27" fill="#000"/>
<rect x="565.5" y="282.5" width="4" height="10" fill="#fff" stroke="#000" stroke-width="1"/>
<rect x="575" y="266" width="1" height="39" fill="#000"/>
<rect x="573" y="282" width="5" height="18" fill="#000"/>
<rect x="583" y="290" width="1" height="17" fill="#000"/>
<rect x="581.5" y="291.5" width="4" height="8" fill="#fff" stroke="#000" stroke-width="1"/>
<rect x="591" y="289" width="1" height="21" fill="#000"/>
<rect x="589" y="291" width="5" height="9" fill="#000"/>
<rect x="599" y="290" width="1" height="16" fill="#000"/>
<rect x="597" y="300" width="5" height="3" fill="#000"/>
<rect x="607" y="295" width="1" height="39" fill="#000"/>
<rect x="605" y="302" width="5" height="20" fill="#000"/>
<rect x="615" y="274" width="1" height="58" fill="#000"/>
<rect x="613.5" y="292.5" width="4" height="29" fill="#fff" stroke="#000" stroke-width="1"/>
<rect x="623" y="222" width="1" height="71" fill="#000"/>
<rect x="621.5" y="226.5" width="4" height="65" fill="#fff" stroke="#000" stroke-width="1"/>
<rect x="631" y="226" width="1" height="17" fill="#000"/>
<rect x="629" y="228" width="5" height="2" fill="#000"/>
<rect x="639" y="202" width="1" height="30" fill="#000"/>
<rect x="637.5" y="209.5" width="4" height="20" fill="#fff" stroke="#000" stroke-width="1"/>
<rect x="647" y="184" width="1" height="35" fill="#000"/>
<rect x="645.5" y="188.5" width="4" height="20" fill="#fff" stroke="#000" stroke-width="1"/>
<rect x="655" y="186" width="1" height="34" fill="#000"/>
<rect x="653" y="189" width="5" height="4" fill="#000"/>
<rect x="663" y="192" width="1" height="72" fill="#000"/>
<rect x="661" y="192" width="5" height="59" fill="#000"/>
<rect x="671" y="217" width="1" height="42" fill="#000"/>
<rect x="669.5" y="237.5" width="4" height="13" fill="#fff" stroke="#000" stroke-width="1"/>
<rect x="679" y="226" width="1" height="29" fill="#000"/>
<rect x="677" y="236" width="5" height="17" fill="#000"/>
<rect x="687" y="232" width="1" height="24" fill="#000"/>
<rect x="685.5" y="233.5" width="4" height="19" fill="#fff" stroke="#000" stroke-width="1"/>
<rect x="695" y="224" width="1" height="30" fill="#000"/>
<rect x="693" y="233" width="5" height="13" fill="#000"/>
<rect x="703" y="242" width="1" height="112" fill="#000"/>
<rect x="701" y="245" width="5" height="53" fill="#000"/>
<rect x="711" y="283" width="1" height="60" fill="#000"/>
<rect x="709" y="296" width="5" height="17" fill="#000"/>
<rect x="719" y="301" width="1" height="45" fill="#000"/>
<rect x="717" y="311" width="5" height="17" fill="#000"/>
<rect x="727" y="324" width="1" height="51" fill="#000"/>
<rect x="725" y="337" width="5" height="35" fill="#000"/>
<rect x="735" y="358" width="1" height="40" fill="#000"/>
<rect x="733" y="370" width="5" height="22" fill="#000"/>
<rect x="743" y="378" width="1" height="59" fill="#000"/>
<rect x="741" y="391" width="5" height="23" fill="#000"/>
<rect x="751" y="396" width="1" height="56" fill="#000"/>
<rect x="749.5" y="396.5" width="4" height="16" fill="#fff" stroke="#000" stroke-width="1"/>
<rect x="759" y="390" width="1" height="69" fill="#000"/>
<rect x="757" y="396" width="5" height="57" fill="#000"/>
<rect x="767" y="424" width="1" height="41" fill="#000"/>
<rect x="765.5" y="438.5" width="4" height="15" fill="#fff" stroke="#000" stroke-width="1"/>
<rect x="775" y="387" width="1" height="52" fill="#000"/>
<rect x="773.5" y="390.5" width="4" height="47" fill="#fff" stroke="#000" stroke-width="1"/>
<rect x="783" y="378" width="1" height="31" fill="#000"/>
<rect x="781.5" y="380.5" width="4" height="9" fill="#fff" stroke="#000" stroke-width="1"/>
<rect x="791" y="362" width="1" height="23" fill="#000"/>
<rect x="789.5" y="377.5" width="4" height="3" fill="#fff" stroke="#000" stroke-width="1"/>
<rect x="799" y="353" width="1" height="44" fill="#000"/>
<rect x="797.5" y="359.5" width="4" height="18" fill="#fff" stroke="#000" stroke-width="1"/>
<rect x="807" y="342" width="1" height="34" fill="#000"/>
<rect x="805.5" y="355.5" width="4" height="3" fill="#fff" stroke="#000" stroke-width="1"/>
<rect x="815" y="312" width="1" height="47" fill="#000"/>
<rect x="813.5" y="318.5" width="4" height="37" fill="#fff" stroke="#000" stroke-width="1"/>
<rect x="823" y="308" width="1" height="29" fill="#000"/>
<rect x="821.5" y="315.5" width="4" height="3" fill="#fff" stroke="#000" stroke-width="1"/>
<rect x="831" y="305" width="1" height="15" fill="#000"/>
<rect x="829" y="314" width="5" height="2" fill="#000"/>
<rect x="839" y="305" width="1" height="17" fill="#000"/>
<rect x="837" y="314" width="5" height="6" fill="#000"/>
<rect x="847" y="301" width="1" height="31" fill="#000"/>
<rect x="845.5" y="301.5" width="4" height="17" fill="#fff" stroke="#000" stroke-width="1"/>
<rect x="855" y="281" width="1" height="47" fill="#000"/>
<rect x="853.5" y="283.5" width="4" height="18" fill="#fff" stroke="#000" stroke-width="1"/>
<rect x="863" y="272" width="1" height="21" fill="#000"/>
<rect x="861" y="283" width="5" height="1" fill="#000"/>
<rect x="871" y="261" width="1" height="24" fill="#000"/>
<rect x="869.5" y="264.5" width="4" height="17" fill="#fff" stroke="#000" stroke-width="1"/>
<rect x="879" y="262" width="1" height="9" fill="#000"/>
<rect x="877" y="264" width="5" height="2" fill="#000"/>
<rect x="887" y="260" width="1" height="7" fill="#000"/>
<rect x="885.5" y="262.5" width="4" height="2" fill="#fff" stroke="#000" stroke-width="1"/>
<rect x="895" y="248" width="1" height="20" fill="#000"/>
<rect x="893.5" y="249.5" width="4" height="12" fill="#fff" stroke="#000" stroke-width="1"/>
<rect x="903" y="222" width="1" height="36" fill="#000"/>
<rect x="901.5" y="228.5" width="4" height="20" fill="#fff" stroke="#000" stroke-width="1"/>
<rect x="911" y="214" width="1" height="21" fill="#000"/>
<rect x="909.5" y="215.5" width="4" height="12" fill="#fff" stroke="#000" stroke-width="1"/>
<rect x="919" y="212" width="1" height="21" fill="#000"/>
<rect x="917" y="216" width="5" height="13" fill="#000"/>
<rect x="927" y="206" width="1" height="30" fill="#000"/>
<rect x="925" y="207" width="5" height="23" fill="#000"/>
<rect x="935" y="229" width="1" height="17" fill="#000"/>
<rect x="933" y="230" width="5" height="12" fill="#000"/>
<rect x="943" y="226" width="1" height="17" fill="#000"/>
<rect x="941.5" y="228.5" width="4" height="13" fill="#fff" stroke="#000" stroke-width="1"/>
<rect x="951" y="194" width="1" height="37" fill="#000"/>
<rect x="949.5" y="195.5" width="4" height="33" fill="#fff" stroke="#000" stroke-width="1"/>
<rect x="959" y="175" width="1" height="23" fill="#000"/>
<rect x="957.5" y="183.5" width="4" height="11" fill="#fff" stroke="#000" stroke-width="1"/>
<rect x="967" y="164" width="1" height="26" fill="#000"/>
<rect x="965.5" y="175.5" width="4" height="7" fill="#fff" stroke="#000" stroke-width="1"/>
<rect x="975" y="171" width="1" height="11" fill="#000"/>
<rect x="973" y="176" width="5" height="2" fill="#000"/>
<rect x="983" y="168" width="1" height="11" fill="#000"/>
<rect x="981.5" y="175.5" width="4" height="2" fill="#fff" stroke="#000" stroke-width="1"/>
<rect x="991" y="150" width="1" height="27" fill="#000"/>
<rect x="989.5" y="157.5" width="4" height="18" fill="#fff" stroke="#000" stroke-width="1"/>
<rect x="999" y="128" width="1" height="43" fill="#000"/>
<rect x="997.5" y="140.5" width="4" height="16" fill="#fff" stroke="#000" stroke-width="1"/>
<rect x="1007" y="132" width="1" height="32" fill="#000"/>
<rect x="1005" y="140" width="5" height="6" fill="#000"/>
<rect x="1015" y="137" width="1" height="18" fill="#000"/>
<rect x="1013.5" y="143.5" width="4" height="2" fill="#fff" stroke="#000" stroke-width="1"/>
<rect x="1023" y="140" width="1" height="17" fill="#000"/>
<rect x="1021" y="144" width="5" height="5" fill="#000"/>
<rect x="1031" y="140" width="1" height="12" fill="#000"/>
<rect x="1029.5" y="143.5" width="4" height="5" fill="#fff" stroke="#000" stroke-width="1"/>
<rect x="1039" y="138" width="1" height="14" fill="#000"/>
<rect x="1037" y="143" width="5" height="6" fill="#000"/>
<rect x="1047" y="129" width="1" height="26" fill="#000"/>
<rect x="1045.5" y="137.5" width="4" height="11" fill="#fff" stroke="#000" stroke-width="1"/>
<rect x="1055" y="129" width="1" height="16" fill="#000"/>
<rect x="1053.5" y="130.5" width="4" height="6" fill="#fff" stroke="#000" stroke-width="1"/>
<rect x="1063" y="118" width="1" height="22" fill="#000"/>
<rect x="1061" y="130" width="5" height="8" fill="#000"/>
<rect x="1071" y="129" width="1" height="15" fill="#000"/>
<rect x="1069" y="137" width="5" height="2" fill="#000"/>
<rect x="1079" y="129" width="1" height="11" fill="#000"/>
<rect x="1077" y="136" width="5" height="2" fill="#000"/>
<rect x="1087" y="121" width="1" height="16" fill="#000"/>
<rect x="1085.5" y="123.5" width="4" height="12" fill="#fff" stroke="#000" stroke-width="1"/>
<rect x="1095" y="98" width="1" height="33" fill="#000"/>
<rect x="1093" y="123" width="5" height="4" fill="#000"/>
<rect x="1103" y="124" width="1" height="14" fill="#000"/>
<rect x="1101" y="127" width="5" height="2" fill="#000"/>
<rect x="1111" y="128" width="1" height="28" fill="#000"/>
<rect x="1109" y="128" width="5" height="23" fill="#000"/>
<rect x="1119" y="149" width="1" height="32" fill="#000"/>
<rect x="1117" y="150" width="5" height="15" fill="#000"/>
<rect x="1127" y="154" width="1" height="11" fill="#000"/>
<rect x="1125.5" y="158.5" width="4" height="6" fill="#fff" stroke="#000" stroke-width="1"/>
<rect x="1135" y="149" width="1" height="19" fill="#000"/>
<rect x="1133" y="157" width="5" height="10" fill="#000"/>
<rect x="1143" y="142" width="1" height="32" fill="#000"/>
<rect x="1141.5" y="156.5" width="4" height="8" fill="#fff" stroke="#000" stroke-width="1"/>
<rect x="1151" y="134" width="1" height="35" fill="#000"/>
<rect x="1149.5" y="145.5" width="4" height="10" fill="#fff" stroke="#000" stroke-width="1"/>
<rect x="1159" y="137" width="1" height="26" fill="#000"/>
<rect x="1157" y="144" width="5" height="8" fill="#000"/>
<rect x="1167" y="137" width="1" height="11" fill="#000"/>
<rect x="1165.5" y="141.5" width="4" height="4" fill="#fff" stroke="#000" stroke-width="1"/>
<rect x="1175" y="126" width="1" height="17" fill="#000"/>
<rect x="1173.5" y="138.5" width="4" height="2" fill="#fff" stroke="#000" stroke-width="1"/>
<rect x="1183" y="136" width="1" height="13" fill="#000"/>
<rect x="1181" y="138" width="5" height="2" fill="#000"/>
<rect x="1191" y="123" width="1" height="26" fill="#000"/>
<rect x="1189.5" y="124.5" width="4" height="14" fill="#fff" stroke="#000" stroke-width="1"/>
<rect x="1199" y="124" width="1" height="57" fill="#000"/>
<rect x="1197" y="124" width="5" height="26" fill="#000"/>
<rect x="1207" y="124" width="1" height="51" fill="#000"/>
<rect x="1205.5" y="128.5" width="4" height="21" fill="#fff" stroke="#000" stroke-width="1"/>
<rect x="1215" y="116" width="1" height="19" fill="#000"/>
<rect x="1213.5" y="125.5" width="4" height="4" fill="#fff" stroke="#000" stroke-width="1"/>
<rect x="1223" y="114" width="1" height="14" fill="#000"/>
<rect x="1221.5" y="116.5" width="4" height="8" fill="#fff" stroke="#000" stroke-width="1"/>
<rect x="1231" y="105" width="1" height="12" fill="#000"/>
<rect x="1229.5" y="109.5" width="4" height="6" fill="#fff" stroke="#000" stroke-width="1"/>
<rect x="1239" y="93" width="1" height="19" fill="#000"/>
<rect x="1237.5" y="97.5" width="4" height="12" fill="#fff" stroke="#000" stroke-width="1"/>
<rect x="1247" y="56" width="1" height="50" fill="#000"/>
<rect x="1245.5" y="66.5" width="4" height="31" fill="#fff" stroke="#000" stroke-width="1"/>
<rect x="1255" y="65" width="1" height="28" fill="#000"/>
<rect x="1253" y="65" width="5" height="9" fill="#000"/>
<rect x="1263" y="62" width="1" height="28" fill="#000"/>
<rect x="1261" y="73" width="5" height="15" fill="#000"/>
<rect x="1271" y="83" width="1" height="16" fill="#000"/>
<rect x="1269" y="87" width="5" height="7" fill="#000"/>
<rect x="1279" y="82" width="1" height="18" fill="#000"/>
<rect x="1277.5" y="83.5" width="4" height="10" fill="#fff" stroke="#000" stroke-width="1"/>
<rect x="1287" y="69" width="1" height="20" fill="#000"/>
<rect x="1285.5" y="79.5" width="4" height="3" fill="#fff" stroke="#000" stroke-width="1"/>
<rect x="1295" y="58" width="1" height="29" fill="#000"/>
<rect x="1293.5" y="65.5" width="4" height="15" fill="#fff" stroke="#000" stroke-width="1"/>
<rect x="1303" y="50" width="1" height="77" fill="#000"/>
<rect x="1301" y="64" width="5" height="49" fill="#000"/>
<rect x="1311" y="113" width="1" height="45" fill="#000"/>
<rect x="1309" y="114" width="5" height="24" fill="#000"/>
<rect x="1319" y="132" width="1" height="39" fill="#000"/>
<rect x="1317" y="137" width="5" height="33" fill="#000"/>
<rect x="1327" y="140" width="1" height="33" fill="#000"/>
<rect x="1325.5" y="151.5" width="4" height="18" fill="#fff" stroke="#000" stroke-width="1"/>
<rect x="1335" y="133" width="1" height="35" fill="#000"/>
<rect x="1333.5" y="137.5" width="4" height="13" fill="#fff" stroke="#000" stroke-width="1"/>
<rect x="1343" y="126" width="1" height="62" fill="#000"/>
<rect x="1341" y="137" width="5" height="37" fill="#000"/>
<rect x="1351" y="142" width="1" height="42" fill="#000"/>
<rect x="1349.5" y="166.5" width="4" height="7" fill="#fff" stroke="#000" stroke-width="1"/>
<rect x="1359" y="157" width="1" height="31" fill="#000"/>
<rect x="1357" y="165" width="5" height="2" fill="#000"/>
<rect x="1367" y="162" width="1" height="14" fill="#000"/>
<rect x="1365" y="165" width="5" height="2" fill="#000"/>
<rect x="1375" y="161" width="1" height="12" fill="#000"/>
<rect x="1373" y="165" width="5" height="2" fill="#000"/>
<rect x="1383" y="163" width="1" height="19" fill="#000"/>
<rect x="1381" y="166" width="5" height="15" fill="#000"/>
<rect x="1391" y="178" width="1" height="26" fill="#000"/>
<rect x="1389" y="180" width="5" height="16" fill="#000"/>
<rect x="1399" y="157" width="1" height="45" fill="#000"/>
<rect x="1397.5" y="160.5" width="4" height="33" fill="#fff" stroke="#000" stroke-width="1"/>
<rect x="1407" y="155" width="1" height="30" fill="#000"/>
<rect x="1405" y="160" width="5" height="23" fill="#000"/>
</g>
<rect x="1329" y="163" width="137" height="6" fill="#00ee00" class="c"/>
<line x1="1296.2" y1="72.5" x2="1380.2" y2="196.8" stroke="#ff0000" stroke-width="3.3" stroke-linecap="round"/>
<polyline points="1371.1,190.7 1380.2,196.8 1377.9,186" fill="#ff0000" fill-opacity="0.5" stroke="#ff0000" stroke-width="2.6999999999999997" stroke-linejoin="round" stroke-linecap="round"/>
<line x1="1380.2" y1="196.8" x2="1398.8" y2="153.2" stroke="#ff0000" stroke-width="3.3" stroke-linecap="round"/>
<polyline points="1398.6,164.2 1398.8,153.2 1391,161" fill="#ff0000" fill-opacity="0.5" stroke="#ff0000" stroke-width="2.6999999999999997" stroke-linejoin="round" stroke-linecap="round"/>
<line x1="1398.8" y1="153.2" x2="1424.3" y2="197.2" stroke="#ff0000" stroke-width="3.3" stroke-linecap="round"/>
<polyline points="1415.6,190.4 1424.3,197.2 1422.8,186.3" fill="#ff0000" fill-opacity="0.5" stroke="#ff0000" stroke-width="2.6999999999999997" stroke-linejoin="round" stroke-linecap="round"/>
<g class="c">
<rect x="7" y="674" width="1" height="52" fill="#c0c0c0"/>
<rect x="15" y="674" width="1" height="53" fill="#c0c0c0"/>
<rect x="23" y="674" width="1" height="48" fill="#c0c0c0"/>
<rect x="31" y="674" width="1" height="44" fill="#c0c0c0"/>
<rect x="39" y="674" width="1" height="41" fill="#c0c0c0"/>
<rect x="47" y="674" width="1" height="47" fill="#c0c0c0"/>
<rect x="55" y="674" width="1" height="51" fill="#c0c0c0"/>
<rect x="63" y="674" width="1" height="57" fill="#c0c0c0"/>
<rect x="71" y="674" width="1" height="62" fill="#c0c0c0"/>
<rect x="79" y="674" width="1" height="64" fill="#c0c0c0"/>
<rect x="87" y="674" width="1" height="65" fill="#c0c0c0"/>
<rect x="95" y="674" width="1" height="63" fill="#c0c0c0"/>
<rect x="103" y="674" width="1" height="57" fill="#c0c0c0"/>
<rect x="111" y="674" width="1" height="50" fill="#c0c0c0"/>
<rect x="119" y="674" width="1" height="53" fill="#c0c0c0"/>
<rect x="127" y="674" width="1" height="61" fill="#c0c0c0"/>
<rect x="135" y="674" width="1" height="66" fill="#c0c0c0"/>
<rect x="143" y="674" width="1" height="68" fill="#c0c0c0"/>
<rect x="151" y="674" width="1" height="67" fill="#c0c0c0"/>
<rect x="159" y="674" width="1" height="63" fill="#c0c0c0"/>
<rect x="167" y="674" width="1" height="55" fill="#c0c0c0"/>
<rect x="175" y="674" width="1" height="50" fill="#c0c0c0"/>
<rect x="183" y="674" width="1" height="45" fill="#c0c0c0"/>
<rect x="191" y="674" width="1" height="38" fill="#c0c0c0"/>
<rect x="199" y="674" width="1" height="34" fill="#c0c0c0"/>
<rect x="207" y="674" width="1" height="35" fill="#c0c0c0"/>
<rect x="215" y="674" width="1" height="38" fill="#c0c0c0"/>
<rect x="223" y="674" width="1" height="34" fill="#c0c0c0"/>
<rect x="231" y="674" width="1" height="27" fill="#c0c0c0"/>
<rect x="239" y="674" width="1" height="20" fill="#c0c0c0"/>
<rect x="247" y="674" width="1" height="14" fill="#c0c0c0"/>
<rect x="255" y="674" width="1" height="9" fill="#c0c0c0"/>
<rect x="263" y="671" width="1" height="4" fill="#c0c0c0"/>
<rect x="271" y="662" width="1" height="13" fill="#c0c0c0"/>
<rect x="279" y="654" width="1" height="21" fill="#c0c0c0"/>
<rect x="287" y="647" width="1" height="28" fill="#c0c0c0"/>
<rect x="295" y="639" width="1" height="36" fill="#c0c0c0"/>
<rect x="303" y="630" width="1" height="45" fill="#c0c0c0"/>
<rect x="311" y="620" width="1" height="55" fill="#c0c0c0"/>
<rect x="319" y="614" width="1" height="61" fill="#c0c0c0"/>
<rect x="327" y="609" width="1" height="66" fill="#c0c0c0"/>
<rect x="335" y="605" width="1" height="70" fill="#c0c0c0"/>
<rect x="343" y="604" width="1" height="71" fill="#c0c0c0"/>
<rect x="351" y="601" width="1" height="74" fill="#c0c0c0"/>
<rect x="359" y="606" width="1" height="69" fill="#c0c0c0"/>
<rect x="367" y="607" width="1" height="68" fill="#c0c0c0"/>
<rect x="375" y="608" width="1" height="67" fill="#c0c0c0"/>
<rect x="383" y="612" width="1" height="63" fill="#c0c0c0"/>
<rect x="391" y="615" width="1" height="60" fill="#c0c0c0"/>
<rect x="399" y="619" width="1" height="56" fill="#c0c0c0"/>
<rect x="407" y="621" width="1" height="54" fill="#c0c0c0"/>
<rect x="415" y="622" width="1" height="53" fill="#c0c0c0"/>
<rect x="423" y="625" width="1" height="50" fill="#c0c0c0"/>
<rect x="431" y="627" width="1" height="48" fill="#c0c0c0"/>
<rect x="439" y="629" width="1" height="46" fill="#c0c0c0"/>
<rect x="447" y="629" width="1" height="46" fill="#c0c0c0"/>
<rect x="455" y="631" width="1" height="44" fill="#c0c0c0"/>
<rect x="463" y="632" width="1" height="43" fill="#c0c0c0"/>
<rect x="471" y="631" width="1" height="44" fill="#c0c0c0"/>
<rect x="479" y="628" width="1" height="47" fill="#c0c0c0"/>
<rect x="487" y="627" width="1" height="48" fill="#c0c0c0"/>
<rect x="495" y="627" width="1" height="48" fill="#c0c0c0"/>
<rect x="503" y="629" width="1" height="46" fill="#c0c0c0"/>
<rect x="511" y="637" width="1" height="38" fill="#c0c0c0"/>
<rect x="519" y="642" width="1" height="33" fill="#c0c0c0"/>
<rect x="527" y="648" width="1" height="27" fill="#c0c0c0"/>
<rect x="535" y="653" width="1" height="22" fill="#c0c0c0"/>
<rect x="543" y="656" width="1" height="19" fill="#c0c0c0"/>
<rect x="551" y="660" width="1" height="15" fill="#c0c0c0"/>
<rect x="559" y="667" width="1" height="8" fill="#c0c0c0"/>
<rect x="567" y="671" width="1" height="4" fill="#c0c0c0"/>
<rect x="575" y="674" width="1" height="1" fill="#c0c0c0"/>
<rect x="583" y="674" width="1" height="5" fill="#c0c0c0"/>
<rect x="591" y="674" width="1" height="8" fill="#c0c0c0"/>
<rect x="599" y="674" width="1" height="12" fill="#c0c0c0"/>
<rect x="607" y="674" width="1" height="15" fill="#c0c0c0"/>
<rect x="615" y="674" width="1" height="15" fill="#c0c0c0"/>
<rect x="623" y="674" width="1" height="6" fill="#c0c0c0"/>
<rect x="631" y="674" width="1" height="2" fill="#c0c0c0"/>
<rect x="639" y="670" width="1" height="5" fill="#c0c0c0"/>
<rect x="647" y="663" width="1" height="12" fill="#c0c0c0"/>
<rect x="655" y="657" width="1" height="18" fill="#c0c0c0"/>
<rect x="663" y="660" width="1" height="15" fill="#c0c0c0"/>
<rect x="671" y="660" width="1" height="15" fill="#c0c0c0"/>
<rect x="679" y="663" width="1" height="12" fill="#c0c0c0"/>
<rect x="687" y="663" width="1" height="12" fill="#c0c0c0"/>
<rect x="695" y="664" width="1" height="11" fill="#c0c0c0"/>
<rect x="703" y="671" width="1" height="4" fill="#c0c0c0"/>
<rect x="711" y="674" width="1" height="3" fill="#c0c0c0"/>
<rect x="719" y="674" width="1" height="10" fill="#c0c0c0"/>
<rect x="727" y="674" width="1" height="22" fill="#c0c0c0"/>
<rect x="735" y="674" width="1" height="31" fill="#c0c0c0"/>
<rect x="743" y="674" width="1" height="41" fill="#c0c0c0"/>
<rect x="751" y="674" width="1" height="47" fill="#c0c0c0"/>
<rect x="759" y="674" width="1" height="56" fill="#c0c0c0"/>
<rect x="767" y="674" width="1" height="63" fill="#c0c0c0"/>
<rect x="775" y="674" width="1" height="61" fill="#c0c0c0"/>
<rect x="783" y="674" width="1" height="57" fill="#c0c0c0"/>
<rect x="791" y="674" width="1" height="55" fill="#c0c0c0"/>
<rect x="799" y="674" width="1" height="50" fill="#c0c0c0"/>
<rect x="807" y="674" width="1" height="45" fill="#c0c0c0"/>
<rect x="815" y="674" width="1" height="36" fill="#c0c0c0"/>
<rect x="823" y="674" width="1" height="29" fill="#c0c0c0"/>
<rect x="831" y="674" width="1" height="22" fill="#c0c0c0"/>
<rect x="839" y="674" width="1" height="17" fill="#c0c0c0"/>
<rect x="847" y="674" width="1" height="12" fill="#c0c0c0"/>
<rect x="855" y="674" width="1" height="5" fill="#c0c0c0"/>
<rect x="863" y="674" width="1" height="1" fill="#c0c0c0"/>
<rect x="871" y="668" width="1" height="7" fill="#c0c0c0"/>
<rect x="879" y="663" width="1" height="12" fill="#c0c0c0"/>
<rect x="887" y="659" width="1" height="16" fill="#c0c0c0"/>
<rect x="895" y="655" width="1" height="20" fill="#c0c0c0"/>
<rect x="903" y="650" width="1" height="25" fill="#c0c0c0"/>
<rect x="911" y="644" width="1" height="31" fill="#c0c0c0"/>
<rect x="919" y="642" width="1" height="33" fill="#c0c0c0"/>
<rect x="927" y="641" width="1" height="34" fill="#c0c0c0"/>
<rect x="935" y="641" width="1" height="34" fill="#c0c0c0"/>
<rect x="943" y="641" width="1" height="34" fill="#c0c0c0"/>
<rect x="951" y="637" width="1" height="38" fill="#c0c0c0"/>
<rect x="959" y="633" width="1" height="42" fill="#c0c0c0"/>
<rect x="967" y="630" width="1" height="45" fill="#c0c0c0"/>
<rect x="975" y="628" width="1" height="47" fill="#c0c0c0"/>
<rect x="983" y="627" width="1" height="48" fill="#c0c0c0"/>
<rect x="991" y="624" width="1" height="51" fill="#c0c0c0"/>
<rect x="999" y="621" width="1" height="54" fill="#c0c0c0"/>
<rect x="1007" y="620" width="1" height="55" fill="#c0c0c0"/>
<rect x="1015" y="619" width="1" height="56" fill="#c0c0c0"/>
<rect x="1023" y="620" width="1" height="55" fill="#c0c0c0"/>
<rect x="1031" y="620" width="1" height="55" fill="#c0c0c0"/>
<rect x="1039" y="622" width="1" height="53" fill="#c0c0c0"/>
<rect x="1047" y="622" width="1" height="53" fill="#c0c0c0"/>
<rect x="1055" y="623" width="1" height="52" fill="#c0c0c0"/>
<rect x="1063" y="625" width="1" height="50" fill="#c0c0c0"/>
<rect x="1071" y="627" width="1" height="48" fill="#c0c0c0"/>
<rect x="1079" y="629" width="1" height="46" fill="#c0c0c0"/>
<rect x="1087" y="629" width="1" height="46" fill="#c0c0c0"/>
<rect x="1095" y="631" width="1" height="44" fill="#c0c0c0"/>
<rect x="1103" y="632" width="1" height="43" fill="#c0c0c0"/>
<rect x="1111" y="637" width="1" height="38" fill="#c0c0c0"/>
<rect x="1119" y="642" width="1" height="33" fill="#c0c0c0"/>
<rect x="1127" y="646" width="1" height="29" fill="#c0c0c0"/>
<rect x="1135" y="650" width="1" height="25" fill="#c0c0c0"/>
<rect x="1143" y="653" width="1" height="22" fill="#c0c0c0"/>
<rect x="1151" y="654" width="1" height="21" fill="#c0c0c0"/>
<rect x="1159" y="656" width="1" height="19" fill="#c0c0c0"/>
<rect x="1167" y="656" width="1" height="19" fill="#c0c0c0"/>
<rect x="1175" y="656" width="1" height="19" fill="#c0c0c0"/>
<rect x="1183" y="657" width="1" height="18" fill="#c0c0c0"/>
<rect x="1191" y="656" width="1" height="19" fill="#c0c0c0"/>
<rect x="1199" y="658" width="1" height="17" fill="#c0c0c0"/>
<rect x="1207" y="658" width="1" height="17" fill="#c0c0c0"/>
<rect x="1215" y="657" width="1" height="18" fill="#c0c0c0"/>
<rect x="1223" y="656" width="1" height="19" fill="#c0c0c0"/>
<rect x="1231" y="654" width="1" height="21" fill="#c0c0c0"/>
<rect x="1239" y="652" width="1" height="23" fill="#c0c0c0"/>
<rect x="1247" y="647" width="1" height="28" fill="#c0c0c0"/>
<rect x="1255" y="644" width="1" height="31" fill="#c0c0c0"/>
<rect x="1263" y="644" width="1" height="31" fill="#c0c0c0"/>
<rect x="1271" y="645" width="1" height="30" fill="#c0c0c0"/>
<rect x="1279" y="645" width="1" height="30" fill="#c0c0c0"/>
<rect x="1287" y="645" width="1" height="30" fill="#c0c0c0"/>
<rect x="1295" y="643" width="1" height="32" fill="#c0c0c0"/>
<rect x="1303" y="648" width="1" height="27" fill="#c0c0c0"/>
<rect x="1311" y="654" width="1" height="21" fill="#c0c0c0"/>
<rect x="1319" y="663" width="1" height="12" fill="#c0c0c0"/>
<rect x="1327" y="669" width="1" height="6" fill="#c0c0c0"/>
<rect x="1335" y="671" width="1" height="4" fill="#c0c0c0"/>
<rect x="1343" y="674" width="1" height="3" fill="#c0c0c0"/>
<rect x="1351" y="674" width="1" height="6" fill="#c0c0c0"/>
<rect x="1359" y="674" width="1" height="9" fill="#c0c0c0"/>
<rect x="1367" y="674" width="1" height="12" fill="#c0c0c0"/>
<rect x="1375" y="674" width="1" height="13" fill="#c0c0c0"/>
<rect x="1383" y="674" width="1" height="17" fill="#c0c0c0"/>
<rect x="1391" y="674" width="1" height="20" fill="#c0c0c0"/>
<rect x="1399" y="674" width="1" height="20" fill="#c0c0c0"/>
<rect x="1407" y="674" width="1" height="19" fill="#c0c0c0"/>
<polyline points="3,712 7.5,716.4 15.5,720.6 23.5,723.7 31.5,724.8 39.5,724 47.5,723.4 55.5,723.1 63.5,723.4 71.5,724.3 79.5,726.3 87.5,727.7 95.5,728.5 103.5,729.6 111.5,730.8 119.5,731.3 127.5,732.8 135.5,734.2 143.5,734.7 151.5,734.7 159.5,734.2 167.5,733.3 175.5,732.2 183.5,731.3 191.5,729.4 199.5,727.1 207.5,722.9 215.5,719.5 223.5,716.4 231.5,712.1 239.5,708.2 247.5,703.9 255.5,700.2 263.5,696 271.5,690.4 279.5,683.9 287.5,677.1 295.5,669.2 303.5,661.2 311.5,653.6 319.5,645.1 327.5,636.6 335.5,629.6 343.5,623.4 351.5,617.7 359.5,614 367.5,610.6 375.5,607.8 383.5,607.5 391.5,607.5 399.5,608.4 407.5,610.4 415.5,612 423.5,614.9 431.5,617.7 439.5,619.7 447.5,621.9 455.5,623.9 463.5,626.2 471.5,627.3 479.5,627.9 487.5,628.2 495.5,628.2 503.5,629 511.5,629.6 519.5,631.6 527.5,633.8 535.5,635.8 543.5,638.1 551.5,641.4 559.5,645.1 567.5,650.2 575.5,655.6 583.5,660.7 591.5,664.9 599.5,669.2 607.5,673.4 615.5,677.6 623.5,680.5 631.5,681.6 639.5,681 647.5,679 655.5,676.8 663.5,674 671.5,671.4 679.5,669.2 687.5,665.8 695.5,663.5 703.5,662.6 711.5,663.5 719.5,666.3 727.5,670 735.5,674.8 743.5,681 751.5,688.1 759.5,696 767.5,703.9 775.5,711.6 783.5,717.8 791.5,722 799.5,724.8 807.5,726.3 815.5,726.5 823.5,724.3 831.5,720 839.5,715.8 847.5,710.1 855.5,703.9 863.5,697.4 871.5,691.2 879.5,685.3 887.5,679.6 895.5,674.8 903.5,669.2 911.5,663.5 919.5,658.7 927.5,654.5 935.5,650.2 943.5,648 951.5,644.3 959.5,641.7 967.5,640 975.5,636.6 983.5,634.4 991.5,632.4 999.5,630.4 1007.5,627.6 1015.5,625.3 1023.5,623.9 1031.5,622.5 1039.5,621.7 1047.5,621.1 1055.5,620.5 1063.5,620.2 1071.5,621.1 1079.5,622.5 1087.5,623.9 1095.5,623.9 1103.5,625.9 1111.5,627.6 1119.5,629.6 1127.5,632.4 1135.5,635.8 1143.5,638.1 1151.5,641.7 1159.5,643.1 1167.5,646 1175.5,649.4 1183.5,651.6 1191.5,653.6 1199.5,654.5 1207.5,655.6 1215.5,655.9 1223.5,656.1 1231.5,655.6 1239.5,655.3 1247.5,654.2 1255.5,652.8 1263.5,651.3 1271.5,650.2 1279.5,648 1287.5,646.5 1295.5,645.7 1303.5,645.4 1311.5,645.4 1319.5,646.5 1327.5,650.2 1335.5,653 1343.5,656.4 1351.5,660.7 1359.5,665.5 1367.5,670.6 1375.5,674.8 1383.5,679 1391.5,682.7 1399.5,684.7 1407.5,685.5" fill="none" stroke="#ff0000" stroke-width="1" stroke-dasharray="3 3"/>
</g>
<line x1="1320" y1="661.3" x2="1415.9" y2="698.3" stroke="#ff0000" stroke-width="3.6" stroke-linecap="butt"/>
<polygon points="1407.8,700.7 1418.7,699.4 1411.5,691.1" fill="#ff0000"/>
<text class="t" x="-3" y="605" font-size="9.8px" fill="#000" textLength="122" lengthAdjust="spacingAndGlyphs">MACD(12,26,9) -76.09 -50.26</text>
<text class="t" x="1654.3" y="603" font-size="9.8px" fill="#000" textLength="28" lengthAdjust="spacingAndGlyphs">321.42</text>
<text class="t" x="1654.3" y="677" font-size="9.8px" fill="#000" textLength="18" lengthAdjust="spacingAndGlyphs">0.00</text>
<text class="t" x="1654.3" y="745" font-size="9.8px" fill="#000" textLength="31.5" lengthAdjust="spacingAndGlyphs">-291.98</text>
<g class="c">
<line x1="0" y1="786.5" x2="1650" y2="786.5" stroke="#c4c4c4" stroke-width="1" stroke-dasharray="3 3" stroke-dashoffset="2"/>
<line x1="0" y1="837.5" x2="1650" y2="837.5" stroke="#c4c4c4" stroke-width="1" stroke-dasharray="3 3" stroke-dashoffset="2"/>
<line x1="0" y1="898.5" x2="1650" y2="898.5" stroke="#c4c4c4" stroke-width="1" stroke-dasharray="3 3" stroke-dashoffset="2"/>
<polyline points="-0.5,856.3 7.5,857.4 15.5,863.9 23.5,848.4 31.5,845.5 39.5,846.9 47.5,864.7 55.5,867.3 63.5,870.4 71.5,872.4 79.5,871.5 87.5,867.3 95.5,863.1 103.5,851.7 111.5,843.5 119.5,861.9 127.5,872.4 135.5,867.6 143.5,866.2 151.5,861.6 159.5,851.7 167.5,842.7 175.5,847.5 183.5,843.3 191.5,838.5 199.5,844.1 207.5,853.2 215.5,856.3 223.5,843.5 231.5,833.4 239.5,831.4 247.5,832.2 255.5,830.5 263.5,814.4 271.5,815.3 279.5,814.4 287.5,811.6 295.5,806.8 303.5,802.6 311.5,796.6 319.5,800.9 327.5,801.1 335.5,798.3 343.5,802.3 351.5,799.4 359.5,817.8 367.5,813.6 375.5,813.6 383.5,816.4 391.5,814.4 399.5,820.9 407.5,817.3 415.5,814.4 423.5,815.3 431.5,816.4 439.5,817.3 447.5,810.8 455.5,816.4 463.5,814.4 471.5,807.1 479.5,803.1 487.5,801.1 495.5,806 503.5,808.2 511.5,840.7 519.5,836.5 527.5,838.5 535.5,839.3 543.5,837.6 551.5,841.9 559.5,853.2 567.5,848.9 575.5,855.4 583.5,850.3 591.5,854.6 599.5,854.6 607.5,861.9 615.5,845.5 623.5,821.5 631.5,823.5 639.5,817.3 647.5,811.6 655.5,813.6 663.5,837 671.5,832.2 679.5,837 687.5,831.4 695.5,834.8 703.5,851.2 711.5,854.9 719.5,859.1 727.5,867.6 735.5,871.8 743.5,875.2 751.5,868.7 759.5,878 767.5,871.8 775.5,856.3 783.5,853.4 791.5,852 799.5,846.4 807.5,844.1 815.5,833.4 823.5,832.2 831.5,832.2 839.5,834.2 847.5,828.6 855.5,823.8 863.5,822.1 871.5,817.3 879.5,817.3 887.5,815.8 895.5,812.5 903.5,806.8 911.5,803.7 919.5,811 927.5,811.6 935.5,818.1 943.5,813.9 951.5,803.7 959.5,800.3 967.5,799.4 975.5,799.4 983.5,799.4 991.5,794.6 999.5,790.4 1007.5,795.2 1015.5,794.1 1023.5,798.3 1031.5,796.1 1039.5,801.1 1047.5,797.5 1055.5,795.2 1063.5,801.1 1071.5,801.1 1079.5,801.1 1087.5,796.1 1095.5,798.9 1103.5,800.9 1111.5,822.9 1119.5,833.4 1127.5,829.1 1135.5,835.1 1143.5,829.1 1151.5,822.3 1159.5,827.2 1167.5,821.5 1175.5,820.1 1183.5,820.1 1191.5,812.5 1199.5,832.2 1207.5,821.5 1215.5,820.1 1223.5,815.8 1231.5,812.2 1239.5,807.9 1247.5,796.6 1255.5,802.6 1263.5,812.5 1271.5,817.3 1279.5,812.5 1287.5,811 1295.5,805.4 1303.5,836.5 1311.5,846.9 1319.5,858.2 1327.5,849.2 1335.5,843.3 1343.5,855.4 1351.5,851.7 1359.5,852.6 1367.5,852.6 1375.5,852.6 1383.5,856.8 1391.5,862.5 1399.5,844.7 1407.5,852" fill="none" stroke="#1e90ff" stroke-width="1"/>
</g>
<line x1="1324.5" y1="850.4" x2="1404.7" y2="859.1" stroke="#ff0000" stroke-width="3.6" stroke-linecap="butt"/>
<polygon points="1397.7,862.6 1407.7,859.4 1398.6,854.1" fill="#ff0000"/>
<text class="t" x="-6" y="763" font-size="9.8px" fill="#000" textLength="69" lengthAdjust="spacingAndGlyphs">RSI(14) 41.7782</text>
<text class="t" x="1654.6" y="761" font-size="9.8px" fill="#000" textLength="14.5" lengthAdjust="spacingAndGlyphs">100</text>
<text class="t" x="1653.2" y="790" font-size="9.8px" fill="#000" textLength="10" lengthAdjust="spacingAndGlyphs">80</text>
<text class="t" x="1653.2" y="841" font-size="9.8px" fill="#000" textLength="10" lengthAdjust="spacingAndGlyphs">50</text>
<text class="t" x="1653.2" y="902" font-size="9.8px" fill="#000" textLength="10" lengthAdjust="spacingAndGlyphs">15</text>
<text class="t" x="1654.6" y="921" font-size="9.8px" fill="#000" textLength="5" lengthAdjust="spacingAndGlyphs">0</text>
<g class="c">
<rect x="55" y="925" width="1" height="3" fill="#000"/>
<rect x="119" y="925" width="1" height="3" fill="#000"/>
<rect x="183" y="925" width="1" height="3" fill="#000"/>
<rect x="247" y="925" width="1" height="3" fill="#000"/>
<rect x="311" y="925" width="1" height="3" fill="#000"/>
<rect x="375" y="925" width="1" height="3" fill="#000"/>
<rect x="439" y="925" width="1" height="3" fill="#000"/>
<rect x="503" y="925" width="1" height="3" fill="#000"/>
<rect x="567" y="925" width="1" height="3" fill="#000"/>
<rect x="631" y="925" width="1" height="3" fill="#000"/>
<rect x="695" y="925" width="1" height="3" fill="#000"/>
<rect x="759" y="925" width="1" height="3" fill="#000"/>
<rect x="823" y="925" width="1" height="3" fill="#000"/>
<rect x="887" y="925" width="1" height="3" fill="#000"/>
<rect x="951" y="925" width="1" height="3" fill="#000"/>
<rect x="1015" y="925" width="1" height="3" fill="#000"/>
<rect x="1079" y="925" width="1" height="3" fill="#000"/>
<rect x="1143" y="925" width="1" height="3" fill="#000"/>
<rect x="1207" y="925" width="1" height="3" fill="#000"/>
<rect x="1271" y="925" width="1" height="3" fill="#000"/>
<rect x="1335" y="925" width="1" height="3" fill="#000"/>
<rect x="1399" y="925" width="1" height="3" fill="#000"/>
</g>
<text class="t" x="3.5" y="937" font-size="9.8px" fill="#000" textLength="40" lengthAdjust="spacingAndGlyphs">Nov 2021</text>
<text class="t" x="54" y="937" font-size="9.8px" fill="#000" textLength="56.6" lengthAdjust="spacingAndGlyphs">30 Nov 08:00</text>
<text class="t" x="118" y="937" font-size="9.8px" fill="#000" textLength="50" lengthAdjust="spacingAndGlyphs">1 Dec 16:00</text>
<text class="t" x="182" y="937" font-size="9.8px" fill="#000" textLength="50" lengthAdjust="spacingAndGlyphs">3 Dec 00:00</text>
<text class="t" x="246" y="937" font-size="9.8px" fill="#000" textLength="50" lengthAdjust="spacingAndGlyphs">6 Dec 04:00</text>
<text class="t" x="310" y="937" font-size="9.8px" fill="#000" textLength="50" lengthAdjust="spacingAndGlyphs">7 Dec 12:00</text>
<text class="t" x="374" y="937" font-size="9.8px" fill="#000" textLength="50" lengthAdjust="spacingAndGlyphs">8 Dec 20:00</text>
<text class="t" x="438" y="937" font-size="9.8px" fill="#000" textLength="55.4" lengthAdjust="spacingAndGlyphs">10 Dec 04:00</text>
<text class="t" x="502" y="937" font-size="9.8px" fill="#000" textLength="55.4" lengthAdjust="spacingAndGlyphs">13 Dec 08:00</text>
<text class="t" x="566" y="937" font-size="9.8px" fill="#000" textLength="55.4" lengthAdjust="spacingAndGlyphs">14 Dec 16:00</text>
<text class="t" x="630" y="937" font-size="9.8px" fill="#000" textLength="55.4" lengthAdjust="spacingAndGlyphs">16 Dec 00:00</text>
<text class="t" x="694" y="937" font-size="9.8px" fill="#000" textLength="55.4" lengthAdjust="spacingAndGlyphs">17 Dec 08:00</text>
<text class="t" x="758" y="937" font-size="9.8px" fill="#000" textLength="55.4" lengthAdjust="spacingAndGlyphs">20 Dec 12:00</text>
<text class="t" x="822" y="937" font-size="9.8px" fill="#000" textLength="55.4" lengthAdjust="spacingAndGlyphs">21 Dec 20:00</text>
<text class="t" x="886" y="937" font-size="9.8px" fill="#000" textLength="55.4" lengthAdjust="spacingAndGlyphs">23 Dec 04:00</text>
<text class="t" x="950" y="937" font-size="9.8px" fill="#000" textLength="55.4" lengthAdjust="spacingAndGlyphs">27 Dec 12:00</text>
<text class="t" x="1014" y="937" font-size="9.8px" fill="#000" textLength="55.4" lengthAdjust="spacingAndGlyphs">28 Dec 20:00</text>
<text class="t" x="1078" y="937" font-size="9.8px" fill="#000" textLength="55.4" lengthAdjust="spacingAndGlyphs">30 Dec 04:00</text>
<text class="t" x="1142" y="937" font-size="9.8px" fill="#000" textLength="55.4" lengthAdjust="spacingAndGlyphs">31 Dec 12:00</text>
<text class="t" x="1206" y="937" font-size="9.8px" fill="#000" textLength="47.8" lengthAdjust="spacingAndGlyphs">3 Jan 16:00</text>
<text class="t" x="1270" y="937" font-size="9.8px" fill="#000" textLength="47.8" lengthAdjust="spacingAndGlyphs">5 Jan 00:00</text>
<text class="t" x="1334" y="937" font-size="9.8px" fill="#000" textLength="47.8" lengthAdjust="spacingAndGlyphs">6 Jan 08:00</text>
<text class="t" x="1398" y="937" font-size="9.8px" fill="#000" textLength="47.8" lengthAdjust="spacingAndGlyphs">7 Jan 16:00</text>
<g class="c">
<rect x="1652" y="109" width="41" height="11" fill="#ff0000"/>
<rect x="1652" y="133" width="41" height="11" fill="#ff0000"/>
<rect x="1652" y="158" width="41" height="11" fill="#32cd32"/>
<rect x="1652" y="177" width="41" height="11" fill="#000000"/>
<rect x="1652" y="200" width="41" height="11" fill="#0000ff"/>
<rect x="1652" y="223" width="41" height="11" fill="#0000ff"/>
</g>
<text class="t" x="1656" y="118" font-size="9.8px" fill="#fff" textLength="33" lengthAdjust="spacingAndGlyphs">36473.4</text>
<text class="t" x="1656" y="142" font-size="9.8px" fill="#fff" textLength="33" lengthAdjust="spacingAndGlyphs">36341.1</text>
<text class="t" x="1656" y="167" font-size="9.8px" fill="#fff" textLength="33" lengthAdjust="spacingAndGlyphs">36203.3</text>
<text class="t" x="1656" y="186" font-size="9.8px" fill="#fff" textLength="33" lengthAdjust="spacingAndGlyphs">36106.0</text>
<text class="t" x="1656" y="209" font-size="9.8px" fill="#fff" textLength="33" lengthAdjust="spacingAndGlyphs">35971.7</text>
<text class="t" x="1656" y="232" font-size="9.8px" fill="#fff" textLength="33" lengthAdjust="spacingAndGlyphs">35845.0</text>
<text class="t" x="6" y="35" font-size="9.8px" fill="#000" textLength="185" lengthAdjust="spacingAndGlyphs">DJ30-,H4&#160;&#160;36226.0 36253.0 36092.0 36106.0</text>
<rect class="c" x="0" y="33" width="1" height="1" fill="#000"/>
<defs><linearGradient id="gTop" x1="0" y1="0" x2="0" y2="1"><stop offset="0" stop-color="#fb5555"/><stop offset="1" stop-color="#e43434"/></linearGradient><linearGradient id="gBot" x1="0" y1="0" x2="0" y2="1"><stop offset="0" stop-color="#d92a2a"/><stop offset="1" stop-color="#b80808"/></linearGradient><linearGradient id="gBtn" x1="0" y1="0" x2="0" y2="1"><stop offset="0" stop-color="#eeeeee"/><stop offset="0.45" stop-color="#e6e6e6"/><stop offset="0.5" stop-color="#d6d6d6"/><stop offset="1" stop-color="#d2d2d2"/></linearGradient></defs><g class="c"><rect x="0" y="43" width="46" height="24" fill="#c00000"/><rect x="0" y="44" width="45" height="23" fill="url(#gTop)"/><rect x="161" y="43" width="52" height="24" fill="#c00000"/><rect x="162" y="44" width="50" height="23" fill="url(#gTop)"/><rect x="0" y="67" width="103" height="33" fill="#c00000"/><rect x="0" y="68" width="102" height="31" fill="url(#gBot)"/><rect x="105" y="67" width="108" height="33" fill="#c00000"/><rect x="106" y="68" width="106" height="31" fill="url(#gBot)"/><rect x="0" y="66" width="42" height="1" fill="#b00000"/><rect x="0" y="67" width="42" height="1" fill="#f79a9a"/><rect x="165" y="66" width="44" height="1" fill="#b00000"/><rect x="165" y="67" width="44" height="1" fill="#f79a9a"/><rect x="48.5" y="43.5" width="110" height="21" fill="#fff" stroke="#a4a6ae" stroke-width="1"/><rect x="50" y="45" width="18" height="18" fill="url(#gBtn)"/><rect x="69" y="44" width="1" height="20" fill="#b4b6bc"/><rect x="139" y="45" width="18" height="18" fill="url(#gBtn)"/><rect x="137" y="44" width="1" height="20" fill="#b4b6bc"/></g><polygon points="56,52 61,52 58.5,55.2" fill="#4a5cc0"/><polygon points="145.5,55 150.5,55 148,51.8" fill="#4a5cc0"/><text x="6.3" y="58.6" font-size="11.2px" fill="#fff" textLength="25.5" lengthAdjust="spacingAndGlyphs">SELL</text><text x="174.6" y="58.6" font-size="11.2px" fill="#fff" textLength="23.2" lengthAdjust="spacingAndGlyphs">BUY</text><text x="133.6" y="57.8" font-size="12.2px" fill="#1a1a1a" text-anchor="end">1.00</text><text x="11" y="94.7" font-size="11.2px" font-weight="bold" fill="#fff" textLength="34" lengthAdjust="spacingAndGlyphs">36104</text><text x="48.6" y="94.7" font-size="25px" fill="#fff">.</text><text x="56" y="94.7" font-size="33px" fill="#fff" textLength="16" lengthAdjust="spacingAndGlyphs">5</text><text x="121" y="94.7" font-size="11.2px" font-weight="bold" fill="#fff" textLength="33.5" lengthAdjust="spacingAndGlyphs">36112</text><text x="159.2" y="94.7" font-size="25px" fill="#fff">.</text><text x="166.8" y="94.7" font-size="33px" fill="#fff" textLength="16" lengthAdjust="spacingAndGlyphs">5</text>
</svg></body></html>
